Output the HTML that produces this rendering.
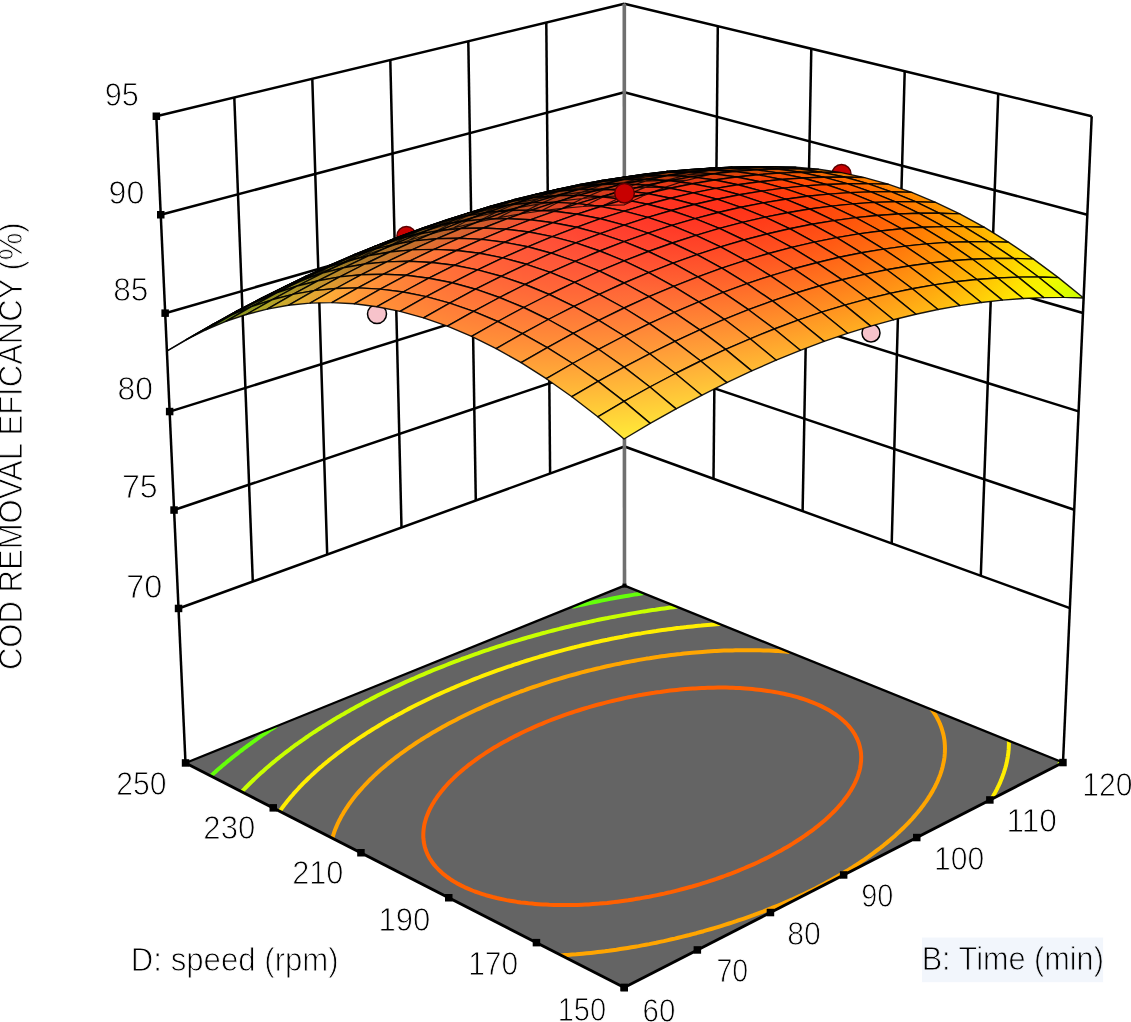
<!DOCTYPE html>
<html><head><meta charset="utf-8"><style>html,body{margin:0;padding:0;background:#fff;}svg{display:block;filter:blur(0.4px)}</style></head>
<body><svg width="1131" height="1022" viewBox="0 0 1131 1022">
<defs><linearGradient id="g0_0" gradientUnits="userSpaceOnUse" x1="625.1" y1="204.7" x2="623.6" y2="195.8"><stop offset="0" stop-color="#21d003"/><stop offset="1" stop-color="#6cd005"/></linearGradient><linearGradient id="g0_1" gradientUnits="userSpaceOnUse" x1="604.5" y1="205.2" x2="603.1" y2="196.8"><stop offset="0" stop-color="#37ca05"/><stop offset="1" stop-color="#7cca07"/></linearGradient><linearGradient id="g0_2" gradientUnits="userSpaceOnUse" x1="583.7" y1="206.4" x2="582.2" y2="198.5"><stop offset="0" stop-color="#48c408"/><stop offset="1" stop-color="#89c40a"/></linearGradient><linearGradient id="g0_3" gradientUnits="userSpaceOnUse" x1="562.6" y1="208.3" x2="561.1" y2="200.9"><stop offset="0" stop-color="#56be0b"/><stop offset="1" stop-color="#91be0d"/></linearGradient><linearGradient id="g0_4" gradientUnits="userSpaceOnUse" x1="541.2" y1="210.8" x2="539.8" y2="203.9"><stop offset="0" stop-color="#60b80d"/><stop offset="1" stop-color="#97b80f"/></linearGradient><linearGradient id="g0_5" gradientUnits="userSpaceOnUse" x1="519.6" y1="214.0" x2="518.2" y2="207.6"><stop offset="0" stop-color="#67b20f"/><stop offset="1" stop-color="#9ab211"/></linearGradient><linearGradient id="g0_6" gradientUnits="userSpaceOnUse" x1="497.8" y1="217.9" x2="496.3" y2="212.1"><stop offset="0" stop-color="#6cac11"/><stop offset="1" stop-color="#9aac13"/></linearGradient><linearGradient id="g0_7" gradientUnits="userSpaceOnUse" x1="475.6" y1="222.6" x2="474.2" y2="217.2"><stop offset="0" stop-color="#6da513"/><stop offset="1" stop-color="#98a515"/></linearGradient><linearGradient id="g0_8" gradientUnits="userSpaceOnUse" x1="453.2" y1="227.9" x2="451.8" y2="223.0"><stop offset="0" stop-color="#6d9f15"/><stop offset="1" stop-color="#949f17"/></linearGradient><linearGradient id="g0_9" gradientUnits="userSpaceOnUse" x1="430.5" y1="234.0" x2="429.2" y2="229.6"><stop offset="0" stop-color="#6b9816"/><stop offset="1" stop-color="#8e9818"/></linearGradient><linearGradient id="g0_10" gradientUnits="userSpaceOnUse" x1="407.6" y1="240.9" x2="406.4" y2="236.9"><stop offset="0" stop-color="#669217"/><stop offset="1" stop-color="#879219"/></linearGradient><linearGradient id="g0_11" gradientUnits="userSpaceOnUse" x1="384.5" y1="248.6" x2="383.2" y2="244.9"><stop offset="0" stop-color="#608c18"/><stop offset="1" stop-color="#808c1a"/></linearGradient><linearGradient id="g0_12" gradientUnits="userSpaceOnUse" x1="361.0" y1="257.0" x2="359.8" y2="253.6"><stop offset="0" stop-color="#598519"/><stop offset="1" stop-color="#78851b"/></linearGradient><linearGradient id="g0_13" gradientUnits="userSpaceOnUse" x1="337.3" y1="266.2" x2="336.1" y2="263.2"><stop offset="0" stop-color="#517f1a"/><stop offset="1" stop-color="#6f7f1c"/></linearGradient><linearGradient id="g0_14" gradientUnits="userSpaceOnUse" x1="313.4" y1="276.3" x2="312.2" y2="273.4"><stop offset="0" stop-color="#47781a"/><stop offset="1" stop-color="#66781a"/></linearGradient><linearGradient id="g0_15" gradientUnits="userSpaceOnUse" x1="289.2" y1="287.1" x2="288.1" y2="284.6"><stop offset="0" stop-color="#3d7219"/><stop offset="1" stop-color="#5c7219"/></linearGradient><linearGradient id="g0_16" gradientUnits="userSpaceOnUse" x1="264.6" y1="298.6" x2="263.7" y2="296.7"><stop offset="0" stop-color="#336c18"/><stop offset="1" stop-color="#516c18"/></linearGradient><linearGradient id="g0_17" gradientUnits="userSpaceOnUse" x1="239.8" y1="311.0" x2="239.1" y2="309.6"><stop offset="0" stop-color="#296616"/><stop offset="1" stop-color="#466616"/></linearGradient><linearGradient id="g0_18" gradientUnits="userSpaceOnUse" x1="214.7" y1="324.1" x2="214.2" y2="323.3"><stop offset="0" stop-color="#206616"/><stop offset="1" stop-color="#3f6616"/></linearGradient><linearGradient id="g0_19" gradientUnits="userSpaceOnUse" x1="189.3" y1="338.1" x2="189.2" y2="338.0"><stop offset="0" stop-color="#156616"/><stop offset="1" stop-color="#346616"/></linearGradient><linearGradient id="g1_0" gradientUnits="userSpaceOnUse" x1="645.5" y1="195.2" x2="644.4" y2="187.5"><stop offset="0" stop-color="#4fc101"/><stop offset="1" stop-color="#91c103"/></linearGradient><linearGradient id="g1_1" gradientUnits="userSpaceOnUse" x1="624.9" y1="195.6" x2="623.8" y2="188.4"><stop offset="0" stop-color="#61bb04"/><stop offset="1" stop-color="#9dbb06"/></linearGradient><linearGradient id="g1_2" gradientUnits="userSpaceOnUse" x1="604.1" y1="196.7" x2="602.9" y2="190.0"><stop offset="0" stop-color="#6fb507"/><stop offset="1" stop-color="#a6b508"/></linearGradient><linearGradient id="g1_3" gradientUnits="userSpaceOnUse" x1="582.9" y1="198.4" x2="581.8" y2="192.2"><stop offset="0" stop-color="#79ae09"/><stop offset="1" stop-color="#acae0b"/></linearGradient><linearGradient id="g1_4" gradientUnits="userSpaceOnUse" x1="561.4" y1="200.8" x2="560.5" y2="195.1"><stop offset="0" stop-color="#82a90b"/><stop offset="1" stop-color="#aaa40d"/></linearGradient><linearGradient id="g1_5" gradientUnits="userSpaceOnUse" x1="539.8" y1="204.2" x2="538.9" y2="198.5"><stop offset="0" stop-color="#84a30d"/><stop offset="1" stop-color="#a4990f"/></linearGradient><linearGradient id="g1_6" gradientUnits="userSpaceOnUse" x1="517.0" y1="203.0" x2="517.9" y2="207.7"><stop offset="0" stop-color="#9c8f11"/><stop offset="1" stop-color="#879b0f"/></linearGradient><linearGradient id="g1_7" gradientUnits="userSpaceOnUse" x1="494.8" y1="208.0" x2="495.8" y2="212.4"><stop offset="0" stop-color="#958612"/><stop offset="1" stop-color="#859511"/></linearGradient><linearGradient id="g1_8" gradientUnits="userSpaceOnUse" x1="472.4" y1="213.7" x2="473.4" y2="217.6"><stop offset="0" stop-color="#8e7f14"/><stop offset="1" stop-color="#818e12"/></linearGradient><linearGradient id="g1_9" gradientUnits="userSpaceOnUse" x1="449.7" y1="220.2" x2="450.7" y2="223.6"><stop offset="0" stop-color="#877815"/><stop offset="1" stop-color="#7c8713"/></linearGradient><linearGradient id="g1_10" gradientUnits="userSpaceOnUse" x1="426.8" y1="227.4" x2="427.7" y2="230.4"><stop offset="0" stop-color="#807316"/><stop offset="1" stop-color="#768014"/></linearGradient><linearGradient id="g1_11" gradientUnits="userSpaceOnUse" x1="403.6" y1="235.2" x2="404.5" y2="238.0"><stop offset="0" stop-color="#796e17"/><stop offset="1" stop-color="#6d7a15"/></linearGradient><linearGradient id="g1_12" gradientUnits="userSpaceOnUse" x1="379.9" y1="243.1" x2="381.2" y2="247.1"><stop offset="0" stop-color="#796618"/><stop offset="1" stop-color="#5f7615"/></linearGradient><linearGradient id="g1_13" gradientUnits="userSpaceOnUse" x1="357.0" y1="255.0" x2="356.5" y2="253.8"><stop offset="0" stop-color="#5e6b16"/><stop offset="1" stop-color="#6b6717"/></linearGradient><linearGradient id="g1_14" gradientUnits="userSpaceOnUse" x1="332.9" y1="264.9" x2="332.6" y2="264.1"><stop offset="0" stop-color="#566516"/><stop offset="1" stop-color="#666516"/></linearGradient><linearGradient id="g1_15" gradientUnits="userSpaceOnUse" x1="308.6" y1="275.7" x2="308.4" y2="275.2"><stop offset="0" stop-color="#4c6616"/><stop offset="1" stop-color="#656616"/></linearGradient><linearGradient id="g1_16" gradientUnits="userSpaceOnUse" x1="283.9" y1="287.1" x2="284.0" y2="287.2"><stop offset="0" stop-color="#4a6616"/><stop offset="1" stop-color="#646616"/></linearGradient><linearGradient id="g1_17" gradientUnits="userSpaceOnUse" x1="258.9" y1="299.3" x2="259.4" y2="300.1"><stop offset="0" stop-color="#406616"/><stop offset="1" stop-color="#5c6616"/></linearGradient><linearGradient id="g1_18" gradientUnits="userSpaceOnUse" x1="233.6" y1="312.4" x2="234.5" y2="313.9"><stop offset="0" stop-color="#386616"/><stop offset="1" stop-color="#556616"/></linearGradient><linearGradient id="g1_19" gradientUnits="userSpaceOnUse" x1="208.0" y1="326.3" x2="209.5" y2="328.6"><stop offset="0" stop-color="#326d18"/><stop offset="1" stop-color="#516d18"/></linearGradient><linearGradient id="g2_0" gradientUnits="userSpaceOnUse" x1="666.2" y1="187.0" x2="665.4" y2="180.5"><stop offset="0" stop-color="#72b100"/><stop offset="1" stop-color="#aab102"/></linearGradient><linearGradient id="g2_1" gradientUnits="userSpaceOnUse" x1="645.5" y1="187.3" x2="644.9" y2="181.3"><stop offset="0" stop-color="#82ac03"/><stop offset="1" stop-color="#ada705"/></linearGradient><linearGradient id="g2_2" gradientUnits="userSpaceOnUse" x1="623.5" y1="182.9" x2="625.1" y2="188.1"><stop offset="0" stop-color="#a79807"/><stop offset="1" stop-color="#8ea605"/></linearGradient><linearGradient id="g2_3" gradientUnits="userSpaceOnUse" x1="602.9" y1="184.8" x2="603.5" y2="189.9"><stop offset="0" stop-color="#a08a09"/><stop offset="1" stop-color="#939f07"/></linearGradient><linearGradient id="g2_4" gradientUnits="userSpaceOnUse" x1="581.4" y1="187.7" x2="582.2" y2="192.1"><stop offset="0" stop-color="#977d0b"/><stop offset="1" stop-color="#959609"/></linearGradient><linearGradient id="g2_5" gradientUnits="userSpaceOnUse" x1="559.7" y1="191.2" x2="560.5" y2="195.1"><stop offset="0" stop-color="#8f730d"/><stop offset="1" stop-color="#8f8b0b"/></linearGradient><linearGradient id="g2_6" gradientUnits="userSpaceOnUse" x1="537.8" y1="195.4" x2="538.5" y2="198.8"><stop offset="0" stop-color="#886b0e"/><stop offset="1" stop-color="#88800d"/></linearGradient><linearGradient id="g2_7" gradientUnits="userSpaceOnUse" x1="515.6" y1="200.3" x2="516.3" y2="203.2"><stop offset="0" stop-color="#816310"/><stop offset="1" stop-color="#81770e"/></linearGradient><linearGradient id="g2_8" gradientUnits="userSpaceOnUse" x1="493.2" y1="206.0" x2="493.8" y2="208.3"><stop offset="0" stop-color="#7a5d11"/><stop offset="1" stop-color="#7a6f0f"/></linearGradient><linearGradient id="g2_9" gradientUnits="userSpaceOnUse" x1="470.5" y1="212.4" x2="471.1" y2="214.3"><stop offset="0" stop-color="#735812"/><stop offset="1" stop-color="#736810"/></linearGradient><linearGradient id="g2_10" gradientUnits="userSpaceOnUse" x1="447.5" y1="219.5" x2="448.0" y2="221.0"><stop offset="0" stop-color="#6c5312"/><stop offset="1" stop-color="#6c6311"/></linearGradient><linearGradient id="g2_11" gradientUnits="userSpaceOnUse" x1="424.3" y1="227.3" x2="424.7" y2="228.4"><stop offset="0" stop-color="#664f13"/><stop offset="1" stop-color="#665f11"/></linearGradient><linearGradient id="g2_12" gradientUnits="userSpaceOnUse" x1="400.9" y1="236.1" x2="401.1" y2="236.6"><stop offset="0" stop-color="#665115"/><stop offset="1" stop-color="#666113"/></linearGradient><linearGradient id="g2_13" gradientUnits="userSpaceOnUse" x1="377.2" y1="245.6" x2="377.1" y2="245.5"><stop offset="0" stop-color="#665117"/><stop offset="1" stop-color="#666115"/></linearGradient><linearGradient id="g2_14" gradientUnits="userSpaceOnUse" x1="353.3" y1="256.0" x2="352.9" y2="255.2"><stop offset="0" stop-color="#665516"/><stop offset="1" stop-color="#666516"/></linearGradient><linearGradient id="g2_15" gradientUnits="userSpaceOnUse" x1="329.0" y1="267.0" x2="328.5" y2="265.9"><stop offset="0" stop-color="#675c17"/><stop offset="1" stop-color="#666717"/></linearGradient><linearGradient id="g2_16" gradientUnits="userSpaceOnUse" x1="304.5" y1="279.0" x2="303.7" y2="277.3"><stop offset="0" stop-color="#6e6718"/><stop offset="1" stop-color="#676f18"/></linearGradient><linearGradient id="g2_17" gradientUnits="userSpaceOnUse" x1="278.8" y1="289.8" x2="279.6" y2="291.5"><stop offset="0" stop-color="#66751a"/><stop offset="1" stop-color="#74741a"/></linearGradient><linearGradient id="g2_18" gradientUnits="userSpaceOnUse" x1="252.9" y1="302.0" x2="255.3" y2="306.0"><stop offset="0" stop-color="#5d7d1b"/><stop offset="1" stop-color="#7d7c1b"/></linearGradient><linearGradient id="g2_19" gradientUnits="userSpaceOnUse" x1="227.0" y1="315.8" x2="230.3" y2="320.8"><stop offset="0" stop-color="#57841d"/><stop offset="1" stop-color="#7a841d"/></linearGradient><linearGradient id="g3_0" gradientUnits="userSpaceOnUse" x1="686.7" y1="174.9" x2="687.3" y2="180.2"><stop offset="0" stop-color="#a59401"/><stop offset="1" stop-color="#8da400"/></linearGradient><linearGradient id="g3_1" gradientUnits="userSpaceOnUse" x1="666.1" y1="175.6" x2="666.6" y2="180.4"><stop offset="0" stop-color="#9c8203"/><stop offset="1" stop-color="#959b02"/></linearGradient><linearGradient id="g3_2" gradientUnits="userSpaceOnUse" x1="645.2" y1="176.9" x2="645.7" y2="181.2"><stop offset="0" stop-color="#937306"/><stop offset="1" stop-color="#938e04"/></linearGradient><linearGradient id="g3_3" gradientUnits="userSpaceOnUse" x1="624.1" y1="179.0" x2="624.6" y2="182.7"><stop offset="0" stop-color="#8b6707"/><stop offset="1" stop-color="#8b7f06"/></linearGradient><linearGradient id="g3_4" gradientUnits="userSpaceOnUse" x1="602.6" y1="181.7" x2="603.1" y2="184.8"><stop offset="0" stop-color="#845d09"/><stop offset="1" stop-color="#847208"/></linearGradient><linearGradient id="g3_5" gradientUnits="userSpaceOnUse" x1="581.0" y1="185.1" x2="581.4" y2="187.7"><stop offset="0" stop-color="#7d540b"/><stop offset="1" stop-color="#7d6709"/></linearGradient><linearGradient id="g3_6" gradientUnits="userSpaceOnUse" x1="559.0" y1="189.2" x2="559.4" y2="191.2"><stop offset="0" stop-color="#754d0c"/><stop offset="1" stop-color="#755e0b"/></linearGradient><linearGradient id="g3_7" gradientUnits="userSpaceOnUse" x1="536.8" y1="194.0" x2="537.2" y2="195.5"><stop offset="0" stop-color="#6e470d"/><stop offset="1" stop-color="#6e560c"/></linearGradient><linearGradient id="g3_8" gradientUnits="userSpaceOnUse" x1="514.4" y1="199.6" x2="514.6" y2="200.6"><stop offset="0" stop-color="#67420e"/><stop offset="1" stop-color="#674f0d"/></linearGradient><linearGradient id="g3_9" gradientUnits="userSpaceOnUse" x1="491.6" y1="205.9" x2="491.8" y2="206.4"><stop offset="0" stop-color="#664210"/><stop offset="1" stop-color="#664f0e"/></linearGradient><linearGradient id="g3_10" gradientUnits="userSpaceOnUse" x1="468.7" y1="213.1" x2="468.7" y2="212.9"><stop offset="0" stop-color="#664011"/><stop offset="1" stop-color="#664e10"/></linearGradient><linearGradient id="g3_11" gradientUnits="userSpaceOnUse" x1="445.5" y1="220.9" x2="445.2" y2="220.2"><stop offset="0" stop-color="#664313"/><stop offset="1" stop-color="#665111"/></linearGradient><linearGradient id="g3_12" gradientUnits="userSpaceOnUse" x1="422.0" y1="229.7" x2="421.5" y2="228.2"><stop offset="0" stop-color="#684615"/><stop offset="1" stop-color="#685513"/></linearGradient><linearGradient id="g3_13" gradientUnits="userSpaceOnUse" x1="398.4" y1="239.3" x2="397.4" y2="237.0"><stop offset="0" stop-color="#6f4d19"/><stop offset="1" stop-color="#6f5e16"/></linearGradient><linearGradient id="g3_14" gradientUnits="userSpaceOnUse" x1="374.4" y1="249.6" x2="373.1" y2="246.6"><stop offset="0" stop-color="#76561a"/><stop offset="1" stop-color="#76671a"/></linearGradient><linearGradient id="g3_15" gradientUnits="userSpaceOnUse" x1="350.3" y1="260.8" x2="348.4" y2="257.0"><stop offset="0" stop-color="#7e5f1c"/><stop offset="1" stop-color="#7e721c"/></linearGradient><linearGradient id="g3_16" gradientUnits="userSpaceOnUse" x1="326.0" y1="273.0" x2="323.3" y2="268.1"><stop offset="0" stop-color="#856a1d"/><stop offset="1" stop-color="#857e1d"/></linearGradient><linearGradient id="g3_17" gradientUnits="userSpaceOnUse" x1="301.5" y1="286.0" x2="297.9" y2="280.1"><stop offset="0" stop-color="#8d751f"/><stop offset="1" stop-color="#8d8c1f"/></linearGradient><linearGradient id="g3_18" gradientUnits="userSpaceOnUse" x1="275.6" y1="298.5" x2="273.3" y2="294.3"><stop offset="0" stop-color="#928620"/><stop offset="1" stop-color="#909320"/></linearGradient><linearGradient id="g3_19" gradientUnits="userSpaceOnUse" x1="247.9" y1="308.6" x2="250.0" y2="312.6"><stop offset="0" stop-color="#8b9922"/><stop offset="1" stop-color="#999722"/></linearGradient><linearGradient id="g4_0" gradientUnits="userSpaceOnUse" x1="708.3" y1="170.7" x2="708.6" y2="174.7"><stop offset="0" stop-color="#907100"/><stop offset="1" stop-color="#908c00"/></linearGradient><linearGradient id="g4_1" gradientUnits="userSpaceOnUse" x1="687.6" y1="171.3" x2="688.0" y2="174.8"><stop offset="0" stop-color="#886202"/><stop offset="1" stop-color="#887b01"/></linearGradient><linearGradient id="g4_2" gradientUnits="userSpaceOnUse" x1="666.8" y1="172.5" x2="667.1" y2="175.5"><stop offset="0" stop-color="#815604"/><stop offset="1" stop-color="#816c03"/></linearGradient><linearGradient id="g4_3" gradientUnits="userSpaceOnUse" x1="645.6" y1="174.5" x2="645.9" y2="176.8"><stop offset="0" stop-color="#794c06"/><stop offset="1" stop-color="#795f05"/></linearGradient><linearGradient id="g4_4" gradientUnits="userSpaceOnUse" x1="624.2" y1="177.1" x2="624.4" y2="178.9"><stop offset="0" stop-color="#714307"/><stop offset="1" stop-color="#715406"/></linearGradient><linearGradient id="g4_5" gradientUnits="userSpaceOnUse" x1="602.5" y1="180.4" x2="602.7" y2="181.7"><stop offset="0" stop-color="#6a3c09"/><stop offset="1" stop-color="#6a4a07"/></linearGradient><linearGradient id="g4_6" gradientUnits="userSpaceOnUse" x1="580.5" y1="184.4" x2="580.7" y2="185.1"><stop offset="0" stop-color="#66380a"/><stop offset="1" stop-color="#664509"/></linearGradient><linearGradient id="g4_7" gradientUnits="userSpaceOnUse" x1="558.3" y1="189.2" x2="558.4" y2="189.4"><stop offset="0" stop-color="#66370c"/><stop offset="1" stop-color="#66440a"/></linearGradient><linearGradient id="g4_8" gradientUnits="userSpaceOnUse" x1="535.9" y1="194.7" x2="535.7" y2="194.3"><stop offset="0" stop-color="#66360e"/><stop offset="1" stop-color="#66430c"/></linearGradient><linearGradient id="g4_9" gradientUnits="userSpaceOnUse" x1="513.1" y1="201.0" x2="512.8" y2="200.0"><stop offset="0" stop-color="#66370f"/><stop offset="1" stop-color="#66420e"/></linearGradient><linearGradient id="g4_10" gradientUnits="userSpaceOnUse" x1="490.2" y1="208.2" x2="489.6" y2="206.3"><stop offset="0" stop-color="#6e3b13"/><stop offset="1" stop-color="#6e4911"/></linearGradient><linearGradient id="g4_11" gradientUnits="userSpaceOnUse" x1="467.0" y1="216.1" x2="466.0" y2="213.4"><stop offset="0" stop-color="#764116"/><stop offset="1" stop-color="#765014"/></linearGradient><linearGradient id="g4_12" gradientUnits="userSpaceOnUse" x1="443.7" y1="224.9" x2="442.1" y2="221.2"><stop offset="0" stop-color="#7d481a"/><stop offset="1" stop-color="#7d5817"/></linearGradient><linearGradient id="g4_13" gradientUnits="userSpaceOnUse" x1="420.1" y1="234.6" x2="417.9" y2="229.7"><stop offset="0" stop-color="#854f1e"/><stop offset="1" stop-color="#85621a"/></linearGradient><linearGradient id="g4_14" gradientUnits="userSpaceOnUse" x1="396.1" y1="244.7" x2="393.5" y2="239.5"><stop offset="0" stop-color="#8d591f"/><stop offset="1" stop-color="#8d6b1f"/></linearGradient><linearGradient id="g4_15" gradientUnits="userSpaceOnUse" x1="372.0" y1="256.1" x2="368.6" y2="249.7"><stop offset="0" stop-color="#956221"/><stop offset="1" stop-color="#957621"/></linearGradient><linearGradient id="g4_16" gradientUnits="userSpaceOnUse" x1="347.8" y1="268.3" x2="343.2" y2="260.7"><stop offset="0" stop-color="#9c6c22"/><stop offset="1" stop-color="#9c8222"/></linearGradient><linearGradient id="g4_17" gradientUnits="userSpaceOnUse" x1="323.5" y1="281.4" x2="317.5" y2="272.5"><stop offset="0" stop-color="#a47824"/><stop offset="1" stop-color="#a49124"/></linearGradient><linearGradient id="g4_18" gradientUnits="userSpaceOnUse" x1="299.0" y1="295.3" x2="291.4" y2="285.2"><stop offset="0" stop-color="#ac8626"/><stop offset="1" stop-color="#aca026"/></linearGradient><linearGradient id="g4_19" gradientUnits="userSpaceOnUse" x1="274.4" y1="310.1" x2="264.9" y2="298.8"><stop offset="0" stop-color="#b39527"/><stop offset="1" stop-color="#b3b227"/></linearGradient><linearGradient id="g5_0" gradientUnits="userSpaceOnUse" x1="730.1" y1="168.0" x2="730.2" y2="170.7"><stop offset="0" stop-color="#7e5600"/><stop offset="1" stop-color="#7e6c00"/></linearGradient><linearGradient id="g5_1" gradientUnits="userSpaceOnUse" x1="709.5" y1="168.5" x2="709.6" y2="170.6"><stop offset="0" stop-color="#764902"/><stop offset="1" stop-color="#765d00"/></linearGradient><linearGradient id="g5_2" gradientUnits="userSpaceOnUse" x1="688.6" y1="169.6" x2="688.7" y2="171.2"><stop offset="0" stop-color="#6e3f03"/><stop offset="1" stop-color="#6e4f02"/></linearGradient><linearGradient id="g5_3" gradientUnits="userSpaceOnUse" x1="667.4" y1="171.5" x2="667.5" y2="172.5"><stop offset="0" stop-color="#663605"/><stop offset="1" stop-color="#664403"/></linearGradient><linearGradient id="g5_4" gradientUnits="userSpaceOnUse" x1="646.0" y1="174.0" x2="646.0" y2="174.4"><stop offset="0" stop-color="#663206"/><stop offset="1" stop-color="#663f05"/></linearGradient><linearGradient id="g5_5" gradientUnits="userSpaceOnUse" x1="624.3" y1="177.3" x2="624.3" y2="177.1"><stop offset="0" stop-color="#663108"/><stop offset="1" stop-color="#663d07"/></linearGradient><linearGradient id="g5_6" gradientUnits="userSpaceOnUse" x1="602.3" y1="181.2" x2="602.2" y2="180.5"><stop offset="0" stop-color="#662f0a"/><stop offset="1" stop-color="#663a08"/></linearGradient><linearGradient id="g5_7" gradientUnits="userSpaceOnUse" x1="580.1" y1="185.9" x2="579.9" y2="184.6"><stop offset="0" stop-color="#6b300c"/><stop offset="1" stop-color="#6b3b0b"/></linearGradient><linearGradient id="g5_8" gradientUnits="userSpaceOnUse" x1="557.7" y1="191.4" x2="557.2" y2="189.5"><stop offset="0" stop-color="#73330f"/><stop offset="1" stop-color="#733e0d"/></linearGradient><linearGradient id="g5_9" gradientUnits="userSpaceOnUse" x1="535.0" y1="197.7" x2="534.2" y2="194.9"><stop offset="0" stop-color="#7b3712"/><stop offset="1" stop-color="#7b4310"/></linearGradient><linearGradient id="g5_10" gradientUnits="userSpaceOnUse" x1="512.1" y1="204.9" x2="510.8" y2="201.0"><stop offset="0" stop-color="#833b16"/><stop offset="1" stop-color="#834a14"/></linearGradient><linearGradient id="g5_11" gradientUnits="userSpaceOnUse" x1="489.1" y1="213.0" x2="487.1" y2="207.8"><stop offset="0" stop-color="#8c411a"/><stop offset="1" stop-color="#8c5117"/></linearGradient><linearGradient id="g5_12" gradientUnits="userSpaceOnUse" x1="465.8" y1="222.0" x2="462.9" y2="215.4"><stop offset="0" stop-color="#94471e"/><stop offset="1" stop-color="#94591b"/></linearGradient><linearGradient id="g5_13" gradientUnits="userSpaceOnUse" x1="442.5" y1="231.8" x2="438.3" y2="223.7"><stop offset="0" stop-color="#9c4f23"/><stop offset="1" stop-color="#9c631f"/></linearGradient><linearGradient id="g5_14" gradientUnits="userSpaceOnUse" x1="418.3" y1="241.6" x2="414.0" y2="233.6"><stop offset="0" stop-color="#a45924"/><stop offset="1" stop-color="#a46c24"/></linearGradient><linearGradient id="g5_15" gradientUnits="userSpaceOnUse" x1="394.4" y1="253.0" x2="388.9" y2="243.7"><stop offset="0" stop-color="#ac6226"/><stop offset="1" stop-color="#ac7726"/></linearGradient><linearGradient id="g5_16" gradientUnits="userSpaceOnUse" x1="370.5" y1="265.3" x2="363.2" y2="254.5"><stop offset="0" stop-color="#b46d28"/><stop offset="1" stop-color="#b48428"/></linearGradient><linearGradient id="g5_17" gradientUnits="userSpaceOnUse" x1="346.4" y1="278.4" x2="337.0" y2="266.3"><stop offset="0" stop-color="#bc7929"/><stop offset="1" stop-color="#bc9329"/></linearGradient><linearGradient id="g5_18" gradientUnits="userSpaceOnUse" x1="322.3" y1="292.4" x2="310.4" y2="279.0"><stop offset="0" stop-color="#c4872b"/><stop offset="1" stop-color="#c4a32b"/></linearGradient><linearGradient id="g5_19" gradientUnits="userSpaceOnUse" x1="298.0" y1="307.1" x2="283.3" y2="292.6"><stop offset="0" stop-color="#cc972d"/><stop offset="1" stop-color="#ccb62d"/></linearGradient><linearGradient id="g6_0" gradientUnits="userSpaceOnUse" x1="752.1" y1="166.7" x2="752.2" y2="168.1"><stop offset="0" stop-color="#6b4100"/><stop offset="1" stop-color="#6b5200"/></linearGradient><linearGradient id="g6_1" gradientUnits="userSpaceOnUse" x1="731.5" y1="167.1" x2="731.6" y2="167.9"><stop offset="0" stop-color="#663701"/><stop offset="1" stop-color="#664600"/></linearGradient><linearGradient id="g6_2" gradientUnits="userSpaceOnUse" x1="710.6" y1="168.2" x2="710.6" y2="168.4"><stop offset="0" stop-color="#663103"/><stop offset="1" stop-color="#663e01"/></linearGradient><linearGradient id="g6_3" gradientUnits="userSpaceOnUse" x1="689.5" y1="170.0" x2="689.4" y2="169.6"><stop offset="0" stop-color="#662e04"/><stop offset="1" stop-color="#663b03"/></linearGradient><linearGradient id="g6_4" gradientUnits="userSpaceOnUse" x1="668.1" y1="172.4" x2="668.0" y2="171.4"><stop offset="0" stop-color="#662a06"/><stop offset="1" stop-color="#663605"/></linearGradient><linearGradient id="g6_5" gradientUnits="userSpaceOnUse" x1="646.4" y1="175.6" x2="646.2" y2="174.0"><stop offset="0" stop-color="#6f2b08"/><stop offset="1" stop-color="#6f3707"/></linearGradient><linearGradient id="g6_6" gradientUnits="userSpaceOnUse" x1="624.4" y1="179.5" x2="624.1" y2="177.3"><stop offset="0" stop-color="#772d0b"/><stop offset="1" stop-color="#773809"/></linearGradient><linearGradient id="g6_7" gradientUnits="userSpaceOnUse" x1="602.2" y1="184.1" x2="601.7" y2="181.3"><stop offset="0" stop-color="#802f0e"/><stop offset="1" stop-color="#803a0c"/></linearGradient><linearGradient id="g6_8" gradientUnits="userSpaceOnUse" x1="579.8" y1="189.6" x2="578.9" y2="186.0"><stop offset="0" stop-color="#883212"/><stop offset="1" stop-color="#883d10"/></linearGradient><linearGradient id="g6_9" gradientUnits="userSpaceOnUse" x1="557.2" y1="196.1" x2="555.8" y2="191.2"><stop offset="0" stop-color="#913515"/><stop offset="1" stop-color="#914213"/></linearGradient><linearGradient id="g6_10" gradientUnits="userSpaceOnUse" x1="534.5" y1="203.4" x2="532.2" y2="197.1"><stop offset="0" stop-color="#99391a"/><stop offset="1" stop-color="#994816"/></linearGradient><linearGradient id="g6_11" gradientUnits="userSpaceOnUse" x1="511.7" y1="211.7" x2="508.2" y2="203.6"><stop offset="0" stop-color="#a23f1e"/><stop offset="1" stop-color="#a24f1a"/></linearGradient><linearGradient id="g6_12" gradientUnits="userSpaceOnUse" x1="488.8" y1="220.9" x2="483.6" y2="210.8"><stop offset="0" stop-color="#aa4523"/><stop offset="1" stop-color="#aa581e"/></linearGradient><linearGradient id="g6_13" gradientUnits="userSpaceOnUse" x1="465.9" y1="230.9" x2="458.5" y2="218.8"><stop offset="0" stop-color="#b34e28"/><stop offset="1" stop-color="#b36223"/></linearGradient><linearGradient id="g6_14" gradientUnits="userSpaceOnUse" x1="441.3" y1="240.4" x2="434.5" y2="229.1"><stop offset="0" stop-color="#bb5829"/><stop offset="1" stop-color="#bb6b29"/></linearGradient><linearGradient id="g6_15" gradientUnits="userSpaceOnUse" x1="417.6" y1="251.7" x2="409.0" y2="239.1"><stop offset="0" stop-color="#c4622b"/><stop offset="1" stop-color="#c4772b"/></linearGradient><linearGradient id="g6_16" gradientUnits="userSpaceOnUse" x1="394.1" y1="264.1" x2="382.7" y2="249.8"><stop offset="0" stop-color="#cc6c2d"/><stop offset="1" stop-color="#cc842d"/></linearGradient><linearGradient id="g6_17" gradientUnits="userSpaceOnUse" x1="370.7" y1="277.2" x2="355.9" y2="261.6"><stop offset="0" stop-color="#d4792f"/><stop offset="1" stop-color="#d4932f"/></linearGradient><linearGradient id="g6_18" gradientUnits="userSpaceOnUse" x1="347.1" y1="290.9" x2="328.5" y2="274.4"><stop offset="0" stop-color="#dd8830"/><stop offset="1" stop-color="#dda430"/></linearGradient><linearGradient id="g6_19" gradientUnits="userSpaceOnUse" x1="323.5" y1="305.3" x2="300.7" y2="288.5"><stop offset="0" stop-color="#e59832"/><stop offset="1" stop-color="#e5b732"/></linearGradient><linearGradient id="g7_0" gradientUnits="userSpaceOnUse" x1="774.4" y1="166.9" x2="774.4" y2="167.0"><stop offset="0" stop-color="#794500"/><stop offset="1" stop-color="#794e00"/></linearGradient><linearGradient id="g7_1" gradientUnits="userSpaceOnUse" x1="753.8" y1="167.3" x2="753.8" y2="166.7"><stop offset="0" stop-color="#793a00"/><stop offset="1" stop-color="#794a00"/></linearGradient><linearGradient id="g7_2" gradientUnits="userSpaceOnUse" x1="732.9" y1="168.3" x2="732.9" y2="167.1"><stop offset="0" stop-color="#7c3402"/><stop offset="1" stop-color="#7c4301"/></linearGradient><linearGradient id="g7_3" gradientUnits="userSpaceOnUse" x1="711.8" y1="170.0" x2="711.7" y2="168.1"><stop offset="0" stop-color="#833205"/><stop offset="1" stop-color="#834003"/></linearGradient><linearGradient id="g7_4" gradientUnits="userSpaceOnUse" x1="690.4" y1="172.4" x2="690.2" y2="169.9"><stop offset="0" stop-color="#8b3008"/><stop offset="1" stop-color="#8b3e06"/></linearGradient><linearGradient id="g7_5" gradientUnits="userSpaceOnUse" x1="668.7" y1="175.5" x2="668.4" y2="172.4"><stop offset="0" stop-color="#93300b"/><stop offset="1" stop-color="#933d09"/></linearGradient><linearGradient id="g7_6" gradientUnits="userSpaceOnUse" x1="646.8" y1="179.3" x2="646.3" y2="175.6"><stop offset="0" stop-color="#9a300e"/><stop offset="1" stop-color="#9a3c0c"/></linearGradient><linearGradient id="g7_7" gradientUnits="userSpaceOnUse" x1="624.7" y1="183.8" x2="623.8" y2="179.6"><stop offset="0" stop-color="#a23111"/><stop offset="1" stop-color="#a23d0f"/></linearGradient><linearGradient id="g7_8" gradientUnits="userSpaceOnUse" x1="602.3" y1="189.4" x2="601.0" y2="184.1"><stop offset="0" stop-color="#aa3315"/><stop offset="1" stop-color="#aa3f13"/></linearGradient><linearGradient id="g7_9" gradientUnits="userSpaceOnUse" x1="579.9" y1="196.2" x2="577.6" y2="188.9"><stop offset="0" stop-color="#b2351a"/><stop offset="1" stop-color="#b24317"/></linearGradient><linearGradient id="g7_10" gradientUnits="userSpaceOnUse" x1="557.5" y1="203.9" x2="553.7" y2="194.3"><stop offset="0" stop-color="#ba391f"/><stop offset="1" stop-color="#ba491b"/></linearGradient><linearGradient id="g7_11" gradientUnits="userSpaceOnUse" x1="535.2" y1="212.5" x2="529.1" y2="200.4"><stop offset="0" stop-color="#c13f24"/><stop offset="1" stop-color="#c1501f"/></linearGradient><linearGradient id="g7_12" gradientUnits="userSpaceOnUse" x1="513.1" y1="221.9" x2="503.7" y2="207.3"><stop offset="0" stop-color="#c94529"/><stop offset="1" stop-color="#c95923"/></linearGradient><linearGradient id="g7_13" gradientUnits="userSpaceOnUse" x1="491.2" y1="232.0" x2="477.4" y2="215.2"><stop offset="0" stop-color="#d14e2e"/><stop offset="1" stop-color="#d16328"/></linearGradient><linearGradient id="g7_14" gradientUnits="userSpaceOnUse" x1="465.6" y1="241.1" x2="454.4" y2="225.8"><stop offset="0" stop-color="#d95930"/><stop offset="1" stop-color="#d96c2f"/></linearGradient><linearGradient id="g7_15" gradientUnits="userSpaceOnUse" x1="442.2" y1="252.2" x2="428.5" y2="235.9"><stop offset="0" stop-color="#e06231"/><stop offset="1" stop-color="#e07731"/></linearGradient><linearGradient id="g7_16" gradientUnits="userSpaceOnUse" x1="419.6" y1="264.4" x2="401.3" y2="246.8"><stop offset="0" stop-color="#e86d33"/><stop offset="1" stop-color="#e88433"/></linearGradient><linearGradient id="g7_17" gradientUnits="userSpaceOnUse" x1="397.1" y1="277.0" x2="373.4" y2="259.0"><stop offset="0" stop-color="#ef7a35"/><stop offset="1" stop-color="#ef9335"/></linearGradient><linearGradient id="g7_18" gradientUnits="userSpaceOnUse" x1="374.4" y1="289.9" x2="345.0" y2="272.8"><stop offset="0" stop-color="#f78836"/><stop offset="1" stop-color="#f7a436"/></linearGradient><linearGradient id="g7_19" gradientUnits="userSpaceOnUse" x1="351.3" y1="303.1" x2="316.5" y2="288.0"><stop offset="0" stop-color="#fe9938"/><stop offset="1" stop-color="#feb838"/></linearGradient><linearGradient id="g8_0" gradientUnits="userSpaceOnUse" x1="796.9" y1="168.7" x2="797.0" y2="167.4"><stop offset="0" stop-color="#a25100"/><stop offset="1" stop-color="#a26500"/></linearGradient><linearGradient id="g8_1" gradientUnits="userSpaceOnUse" x1="776.3" y1="168.9" x2="776.4" y2="167.0"><stop offset="0" stop-color="#a84800"/><stop offset="1" stop-color="#a85c00"/></linearGradient><linearGradient id="g8_2" gradientUnits="userSpaceOnUse" x1="755.5" y1="169.9" x2="755.5" y2="167.3"><stop offset="0" stop-color="#ad4103"/><stop offset="1" stop-color="#ad5300"/></linearGradient><linearGradient id="g8_3" gradientUnits="userSpaceOnUse" x1="734.4" y1="171.5" x2="734.3" y2="168.2"><stop offset="0" stop-color="#b33b06"/><stop offset="1" stop-color="#b34c03"/></linearGradient><linearGradient id="g8_4" gradientUnits="userSpaceOnUse" x1="713.0" y1="173.9" x2="712.8" y2="169.9"><stop offset="0" stop-color="#b93709"/><stop offset="1" stop-color="#b94607"/></linearGradient><linearGradient id="g8_5" gradientUnits="userSpaceOnUse" x1="691.3" y1="176.9" x2="691.0" y2="172.3"><stop offset="0" stop-color="#bf340d"/><stop offset="1" stop-color="#bf420a"/></linearGradient><linearGradient id="g8_6" gradientUnits="userSpaceOnUse" x1="669.5" y1="180.7" x2="668.8" y2="175.5"><stop offset="0" stop-color="#c43311"/><stop offset="1" stop-color="#c4400e"/></linearGradient><linearGradient id="g8_7" gradientUnits="userSpaceOnUse" x1="647.4" y1="185.2" x2="646.3" y2="179.4"><stop offset="0" stop-color="#ca3315"/><stop offset="1" stop-color="#ca3e12"/></linearGradient><linearGradient id="g8_8" gradientUnits="userSpaceOnUse" x1="625.2" y1="191.0" x2="623.3" y2="183.6"><stop offset="0" stop-color="#d0341a"/><stop offset="1" stop-color="#d04016"/></linearGradient><linearGradient id="g8_9" gradientUnits="userSpaceOnUse" x1="603.2" y1="198.2" x2="599.5" y2="187.8"><stop offset="0" stop-color="#d6351f"/><stop offset="1" stop-color="#d6431a"/></linearGradient><linearGradient id="g8_10" gradientUnits="userSpaceOnUse" x1="581.6" y1="206.4" x2="574.7" y2="192.6"><stop offset="0" stop-color="#db3924"/><stop offset="1" stop-color="#db491f"/></linearGradient><linearGradient id="g8_11" gradientUnits="userSpaceOnUse" x1="560.6" y1="215.5" x2="548.7" y2="198.2"><stop offset="0" stop-color="#e13e29"/><stop offset="1" stop-color="#e14f23"/></linearGradient><linearGradient id="g8_12" gradientUnits="userSpaceOnUse" x1="540.4" y1="224.7" x2="521.3" y2="205.2"><stop offset="0" stop-color="#e7442f"/><stop offset="1" stop-color="#e75828"/></linearGradient><linearGradient id="g8_13" gradientUnits="userSpaceOnUse" x1="520.8" y1="233.6" x2="492.8" y2="214.3"><stop offset="0" stop-color="#ed4d34"/><stop offset="1" stop-color="#ed622e"/></linearGradient><linearGradient id="g8_14" gradientUnits="userSpaceOnUse" x1="492.8" y1="243.4" x2="472.1" y2="224.1"><stop offset="0" stop-color="#f25835"/><stop offset="1" stop-color="#f26b34"/></linearGradient><linearGradient id="g8_15" gradientUnits="userSpaceOnUse" x1="469.4" y1="254.0" x2="446.1" y2="234.8"><stop offset="0" stop-color="#f86136"/><stop offset="1" stop-color="#f87536"/></linearGradient><linearGradient id="g8_16" gradientUnits="userSpaceOnUse" x1="448.3" y1="264.9" x2="417.3" y2="246.9"><stop offset="0" stop-color="#fe6b38"/><stop offset="1" stop-color="#fe8138"/></linearGradient><linearGradient id="g8_17" gradientUnits="userSpaceOnUse" x1="426.6" y1="275.5" x2="388.5" y2="261.2"><stop offset="0" stop-color="#ff7538"/><stop offset="1" stop-color="#ff8d38"/></linearGradient><linearGradient id="g8_18" gradientUnits="userSpaceOnUse" x1="403.9" y1="286.1" x2="360.1" y2="277.2"><stop offset="0" stop-color="#ff8038"/><stop offset="1" stop-color="#ff9a38"/></linearGradient><linearGradient id="g8_19" gradientUnits="userSpaceOnUse" x1="379.8" y1="297.3" x2="332.4" y2="294.4"><stop offset="0" stop-color="#ff8d38"/><stop offset="1" stop-color="#ffa838"/></linearGradient><linearGradient id="g9_0" gradientUnits="userSpaceOnUse" x1="819.6" y1="171.9" x2="819.9" y2="169.3"><stop offset="0" stop-color="#ce6000"/><stop offset="1" stop-color="#ce7700"/></linearGradient><linearGradient id="g9_1" gradientUnits="userSpaceOnUse" x1="799.1" y1="172.1" x2="799.4" y2="168.9"><stop offset="0" stop-color="#d25300"/><stop offset="1" stop-color="#d26800"/></linearGradient><linearGradient id="g9_2" gradientUnits="userSpaceOnUse" x1="778.2" y1="173.0" x2="778.5" y2="169.1"><stop offset="0" stop-color="#d54803"/><stop offset="1" stop-color="#d55b00"/></linearGradient><linearGradient id="g9_3" gradientUnits="userSpaceOnUse" x1="757.1" y1="174.7" x2="757.3" y2="169.9"><stop offset="0" stop-color="#d94007"/><stop offset="1" stop-color="#d95103"/></linearGradient><linearGradient id="g9_4" gradientUnits="userSpaceOnUse" x1="735.7" y1="177.0" x2="735.8" y2="171.5"><stop offset="0" stop-color="#dd3a0b"/><stop offset="1" stop-color="#dd4907"/></linearGradient><linearGradient id="g9_5" gradientUnits="userSpaceOnUse" x1="714.2" y1="180.0" x2="713.9" y2="173.8"><stop offset="0" stop-color="#e0350f"/><stop offset="1" stop-color="#e0430b"/></linearGradient><linearGradient id="g9_6" gradientUnits="userSpaceOnUse" x1="692.3" y1="183.8" x2="691.7" y2="176.9"><stop offset="0" stop-color="#e43313"/><stop offset="1" stop-color="#e43e10"/></linearGradient><linearGradient id="g9_7" gradientUnits="userSpaceOnUse" x1="670.3" y1="188.2" x2="669.1" y2="180.8"><stop offset="0" stop-color="#e73218"/><stop offset="1" stop-color="#e73c14"/></linearGradient><linearGradient id="g9_8" gradientUnits="userSpaceOnUse" x1="648.5" y1="194.4" x2="645.7" y2="184.5"><stop offset="0" stop-color="#eb321d"/><stop offset="1" stop-color="#eb3c18"/></linearGradient><linearGradient id="g9_9" gradientUnits="userSpaceOnUse" x1="627.6" y1="202.5" x2="620.8" y2="187.7"><stop offset="0" stop-color="#ee3322"/><stop offset="1" stop-color="#ee3f1c"/></linearGradient><linearGradient id="g9_10" gradientUnits="userSpaceOnUse" x1="608.4" y1="211.5" x2="593.6" y2="191.8"><stop offset="0" stop-color="#f23627"/><stop offset="1" stop-color="#f24421"/></linearGradient><linearGradient id="g9_11" gradientUnits="userSpaceOnUse" x1="591.3" y1="219.2" x2="563.7" y2="198.6"><stop offset="0" stop-color="#f63b2c"/><stop offset="1" stop-color="#f64b26"/></linearGradient><linearGradient id="g9_12" gradientUnits="userSpaceOnUse" x1="574.1" y1="223.6" x2="533.3" y2="210.4"><stop offset="0" stop-color="#f9412f"/><stop offset="1" stop-color="#f9522d"/></linearGradient><linearGradient id="g9_13" gradientUnits="userSpaceOnUse" x1="553.2" y1="226.2" x2="506.0" y2="225.7"><stop offset="0" stop-color="#fd4a32"/><stop offset="1" stop-color="#fd5c35"/></linearGradient><linearGradient id="g9_14" gradientUnits="userSpaceOnUse" x1="525.9" y1="242.0" x2="484.5" y2="229.5"><stop offset="0" stop-color="#ff5337"/><stop offset="1" stop-color="#ff6437"/></linearGradient><linearGradient id="g9_15" gradientUnits="userSpaceOnUse" x1="501.1" y1="252.8" x2="459.9" y2="239.9"><stop offset="0" stop-color="#ff5b38"/><stop offset="1" stop-color="#ff6c38"/></linearGradient><linearGradient id="g9_16" gradientUnits="userSpaceOnUse" x1="479.1" y1="259.4" x2="431.9" y2="256.4"><stop offset="0" stop-color="#ff6338"/><stop offset="1" stop-color="#ff7538"/></linearGradient><linearGradient id="g9_17" gradientUnits="userSpaceOnUse" x1="454.6" y1="267.1" x2="405.8" y2="273.6"><stop offset="0" stop-color="#ff6c38"/><stop offset="1" stop-color="#ff8038"/></linearGradient><linearGradient id="g9_18" gradientUnits="userSpaceOnUse" x1="428.4" y1="276.7" x2="380.7" y2="290.6"><stop offset="0" stop-color="#ff7738"/><stop offset="1" stop-color="#ff8d38"/></linearGradient><linearGradient id="g9_19" gradientUnits="userSpaceOnUse" x1="401.6" y1="288.3" x2="355.8" y2="307.4"><stop offset="0" stop-color="#ff8438"/><stop offset="1" stop-color="#ff9b38"/></linearGradient><linearGradient id="g10_0" gradientUnits="userSpaceOnUse" x1="842.5" y1="176.7" x2="843.2" y2="172.9"><stop offset="0" stop-color="#f16d00"/><stop offset="1" stop-color="#f18400"/></linearGradient><linearGradient id="g10_1" gradientUnits="userSpaceOnUse" x1="821.9" y1="176.9" x2="822.7" y2="172.4"><stop offset="0" stop-color="#f25c00"/><stop offset="1" stop-color="#f27100"/></linearGradient><linearGradient id="g10_2" gradientUnits="userSpaceOnUse" x1="801.1" y1="177.7" x2="801.9" y2="172.5"><stop offset="0" stop-color="#f44e03"/><stop offset="1" stop-color="#f46000"/></linearGradient><linearGradient id="g10_3" gradientUnits="userSpaceOnUse" x1="780.0" y1="179.3" x2="780.7" y2="173.3"><stop offset="0" stop-color="#f54407"/><stop offset="1" stop-color="#f55303"/></linearGradient><linearGradient id="g10_4" gradientUnits="userSpaceOnUse" x1="758.6" y1="181.6" x2="759.3" y2="174.8"><stop offset="0" stop-color="#f63c0b"/><stop offset="1" stop-color="#f64907"/></linearGradient><linearGradient id="g10_5" gradientUnits="userSpaceOnUse" x1="737.0" y1="184.7" x2="737.4" y2="177.0"><stop offset="0" stop-color="#f73610"/><stop offset="1" stop-color="#f7410c"/></linearGradient><linearGradient id="g10_6" gradientUnits="userSpaceOnUse" x1="715.3" y1="188.4" x2="715.1" y2="180.0"><stop offset="0" stop-color="#f93314"/><stop offset="1" stop-color="#f93b10"/></linearGradient><linearGradient id="g10_7" gradientUnits="userSpaceOnUse" x1="693.5" y1="192.9" x2="692.3" y2="183.8"><stop offset="0" stop-color="#fa3119"/><stop offset="1" stop-color="#fa3815"/></linearGradient><linearGradient id="g10_8" gradientUnits="userSpaceOnUse" x1="672.6" y1="200.0" x2="668.0" y2="186.5"><stop offset="0" stop-color="#fb301e"/><stop offset="1" stop-color="#fb3719"/></linearGradient><linearGradient id="g10_9" gradientUnits="userSpaceOnUse" x1="656.6" y1="209.9" x2="638.2" y2="187.9"><stop offset="0" stop-color="#fc3124"/><stop offset="1" stop-color="#fc3a1d"/></linearGradient><linearGradient id="g10_10" gradientUnits="userSpaceOnUse" x1="645.5" y1="211.5" x2="602.9" y2="199.2"><stop offset="0" stop-color="#fd3425"/><stop offset="1" stop-color="#fd3e25"/></linearGradient><linearGradient id="g10_11" gradientUnits="userSpaceOnUse" x1="623.1" y1="206.8" x2="578.3" y2="218.4"><stop offset="0" stop-color="#ff3826"/><stop offset="1" stop-color="#ff432e"/></linearGradient><linearGradient id="g10_12" gradientUnits="userSpaceOnUse" x1="594.9" y1="209.6" x2="558.9" y2="231.8"><stop offset="0" stop-color="#ff3e2a"/><stop offset="1" stop-color="#ff4a34"/></linearGradient><linearGradient id="g10_13" gradientUnits="userSpaceOnUse" x1="567.6" y1="216.9" x2="537.9" y2="242.4"><stop offset="0" stop-color="#ff462f"/><stop offset="1" stop-color="#ff5338"/></linearGradient><linearGradient id="g10_14" gradientUnits="userSpaceOnUse" x1="546.9" y1="227.9" x2="509.7" y2="250.9"><stop offset="0" stop-color="#ff4e35"/><stop offset="1" stop-color="#ff5b39"/></linearGradient><linearGradient id="g10_15" gradientUnits="userSpaceOnUse" x1="524.6" y1="240.3" x2="482.6" y2="259.9"><stop offset="0" stop-color="#ff5638"/><stop offset="1" stop-color="#ff6338"/></linearGradient><linearGradient id="g10_16" gradientUnits="userSpaceOnUse" x1="496.8" y1="249.2" x2="460.3" y2="274.1"><stop offset="0" stop-color="#ff5d38"/><stop offset="1" stop-color="#ff6c38"/></linearGradient><linearGradient id="g10_17" gradientUnits="userSpaceOnUse" x1="469.5" y1="260.3" x2="436.9" y2="287.8"><stop offset="0" stop-color="#ff6738"/><stop offset="1" stop-color="#ff7738"/></linearGradient><linearGradient id="g10_18" gradientUnits="userSpaceOnUse" x1="442.6" y1="273.0" x2="412.6" y2="301.8"><stop offset="0" stop-color="#ff7138"/><stop offset="1" stop-color="#ff8438"/></linearGradient><linearGradient id="g10_19" gradientUnits="userSpaceOnUse" x1="415.8" y1="286.7" x2="387.4" y2="316.6"><stop offset="0" stop-color="#ff7e38"/><stop offset="1" stop-color="#ff9238"/></linearGradient><linearGradient id="g11_0" gradientUnits="userSpaceOnUse" x1="865.4" y1="183.2" x2="866.9" y2="178.0"><stop offset="0" stop-color="#ff7300"/><stop offset="1" stop-color="#ff8900"/></linearGradient><linearGradient id="g11_1" gradientUnits="userSpaceOnUse" x1="844.8" y1="183.3" x2="846.5" y2="177.5"><stop offset="0" stop-color="#ff6100"/><stop offset="1" stop-color="#ff7400"/></linearGradient><linearGradient id="g11_2" gradientUnits="userSpaceOnUse" x1="824.0" y1="184.0" x2="825.7" y2="177.7"><stop offset="0" stop-color="#ff5202"/><stop offset="1" stop-color="#ff6100"/></linearGradient><linearGradient id="g11_3" gradientUnits="userSpaceOnUse" x1="802.8" y1="185.4" x2="804.7" y2="178.5"><stop offset="0" stop-color="#ff4707"/><stop offset="1" stop-color="#ff5203"/></linearGradient><linearGradient id="g11_4" gradientUnits="userSpaceOnUse" x1="781.4" y1="187.6" x2="783.3" y2="180.0"><stop offset="0" stop-color="#ff3e0b"/><stop offset="1" stop-color="#ff4707"/></linearGradient><linearGradient id="g11_5" gradientUnits="userSpaceOnUse" x1="759.7" y1="190.7" x2="761.6" y2="182.1"><stop offset="0" stop-color="#ff3710"/><stop offset="1" stop-color="#ff3e0b"/></linearGradient><linearGradient id="g11_6" gradientUnits="userSpaceOnUse" x1="737.9" y1="194.5" x2="739.5" y2="185.0"><stop offset="0" stop-color="#ff3314"/><stop offset="1" stop-color="#ff3810"/></linearGradient><linearGradient id="g11_7" gradientUnits="userSpaceOnUse" x1="716.2" y1="199.2" x2="716.5" y2="188.4"><stop offset="0" stop-color="#ff3119"/><stop offset="1" stop-color="#ff3415"/></linearGradient><linearGradient id="g11_8" gradientUnits="userSpaceOnUse" x1="706.6" y1="210.5" x2="681.0" y2="186.9"><stop offset="0" stop-color="#ff301e"/><stop offset="1" stop-color="#ff3319"/></linearGradient><linearGradient id="g11_9" gradientUnits="userSpaceOnUse" x1="682.4" y1="192.7" x2="659.4" y2="216.0"><stop offset="0" stop-color="#ff311b"/><stop offset="1" stop-color="#ff3425"/></linearGradient><linearGradient id="g11_10" gradientUnits="userSpaceOnUse" x1="654.5" y1="200.0" x2="640.8" y2="221.6"><stop offset="0" stop-color="#ff3321"/><stop offset="1" stop-color="#ff3829"/></linearGradient><linearGradient id="g11_11" gradientUnits="userSpaceOnUse" x1="629.8" y1="207.6" x2="618.5" y2="228.5"><stop offset="0" stop-color="#ff3726"/><stop offset="1" stop-color="#ff3e2d"/></linearGradient><linearGradient id="g11_12" gradientUnits="userSpaceOnUse" x1="605.6" y1="215.7" x2="595.0" y2="236.6"><stop offset="0" stop-color="#ff3c2b"/><stop offset="1" stop-color="#ff4532"/></linearGradient><linearGradient id="g11_13" gradientUnits="userSpaceOnUse" x1="581.4" y1="224.4" x2="571.0" y2="245.8"><stop offset="0" stop-color="#ff4330"/><stop offset="1" stop-color="#ff4e36"/></linearGradient><linearGradient id="g11_14" gradientUnits="userSpaceOnUse" x1="557.5" y1="233.6" x2="546.1" y2="256.1"><stop offset="0" stop-color="#ff4c35"/><stop offset="1" stop-color="#ff5639"/></linearGradient><linearGradient id="g11_15" gradientUnits="userSpaceOnUse" x1="533.8" y1="243.4" x2="520.3" y2="267.7"><stop offset="0" stop-color="#ff5438"/><stop offset="1" stop-color="#ff5d38"/></linearGradient><linearGradient id="g11_16" gradientUnits="userSpaceOnUse" x1="508.6" y1="254.8" x2="495.4" y2="279.4"><stop offset="0" stop-color="#ff5b38"/><stop offset="1" stop-color="#ff6738"/></linearGradient><linearGradient id="g11_17" gradientUnits="userSpaceOnUse" x1="483.2" y1="266.9" x2="470.0" y2="292.2"><stop offset="0" stop-color="#ff6438"/><stop offset="1" stop-color="#ff7138"/></linearGradient><linearGradient id="g11_18" gradientUnits="userSpaceOnUse" x1="457.7" y1="279.9" x2="444.2" y2="305.9"><stop offset="0" stop-color="#ff6f38"/><stop offset="1" stop-color="#ff7e38"/></linearGradient><linearGradient id="g11_19" gradientUnits="userSpaceOnUse" x1="431.9" y1="293.8" x2="418.0" y2="320.6"><stop offset="0" stop-color="#ff7b38"/><stop offset="1" stop-color="#ff8c38"/></linearGradient><linearGradient id="g12_0" gradientUnits="userSpaceOnUse" x1="887.9" y1="192.3" x2="891.6" y2="183.7"><stop offset="0" stop-color="#ff7400"/><stop offset="1" stop-color="#ff8f00"/></linearGradient><linearGradient id="g12_1" gradientUnits="userSpaceOnUse" x1="867.1" y1="192.7" x2="871.5" y2="182.8"><stop offset="0" stop-color="#ff6100"/><stop offset="1" stop-color="#ff7900"/></linearGradient><linearGradient id="g12_2" gradientUnits="userSpaceOnUse" x1="845.8" y1="193.8" x2="851.2" y2="182.5"><stop offset="0" stop-color="#ff5202"/><stop offset="1" stop-color="#ff6600"/></linearGradient><linearGradient id="g12_3" gradientUnits="userSpaceOnUse" x1="823.6" y1="196.2" x2="831.2" y2="182.3"><stop offset="0" stop-color="#ff4608"/><stop offset="1" stop-color="#ff5600"/></linearGradient><linearGradient id="g12_4" gradientUnits="userSpaceOnUse" x1="800.8" y1="199.3" x2="811.3" y2="182.9"><stop offset="0" stop-color="#ff3d0d"/><stop offset="1" stop-color="#ff4b04"/></linearGradient><linearGradient id="g12_5" gradientUnits="userSpaceOnUse" x1="776.1" y1="203.5" x2="792.7" y2="183.9"><stop offset="0" stop-color="#ff3612"/><stop offset="1" stop-color="#ff4108"/></linearGradient><linearGradient id="g12_6" gradientUnits="userSpaceOnUse" x1="744.6" y1="205.6" x2="780.3" y2="188.4"><stop offset="0" stop-color="#ff3217"/><stop offset="1" stop-color="#ff3b0c"/></linearGradient><linearGradient id="g12_7" gradientUnits="userSpaceOnUse" x1="729.0" y1="188.5" x2="751.3" y2="213.6"><stop offset="0" stop-color="#ff3213"/><stop offset="1" stop-color="#ff3519"/></linearGradient><linearGradient id="g12_8" gradientUnits="userSpaceOnUse" x1="716.9" y1="199.3" x2="718.3" y2="212.5"><stop offset="0" stop-color="#ff3119"/><stop offset="1" stop-color="#ff331d"/></linearGradient><linearGradient id="g12_9" gradientUnits="userSpaceOnUse" x1="695.2" y1="204.6" x2="694.2" y2="218.5"><stop offset="0" stop-color="#ff311d"/><stop offset="1" stop-color="#ff3522"/></linearGradient><linearGradient id="g12_10" gradientUnits="userSpaceOnUse" x1="672.6" y1="210.8" x2="670.3" y2="225.2"><stop offset="0" stop-color="#ff3322"/><stop offset="1" stop-color="#ff3826"/></linearGradient><linearGradient id="g12_11" gradientUnits="userSpaceOnUse" x1="649.5" y1="217.7" x2="646.4" y2="232.8"><stop offset="0" stop-color="#ff3727"/><stop offset="1" stop-color="#ff3e2b"/></linearGradient><linearGradient id="g12_12" gradientUnits="userSpaceOnUse" x1="626.0" y1="225.5" x2="622.3" y2="241.2"><stop offset="0" stop-color="#ff3c2c"/><stop offset="1" stop-color="#ff4430"/></linearGradient><linearGradient id="g12_13" gradientUnits="userSpaceOnUse" x1="602.1" y1="234.1" x2="597.9" y2="250.5"><stop offset="0" stop-color="#ff4330"/><stop offset="1" stop-color="#ff4d35"/></linearGradient><linearGradient id="g12_14" gradientUnits="userSpaceOnUse" x1="577.7" y1="243.4" x2="573.4" y2="260.8"><stop offset="0" stop-color="#ff4c35"/><stop offset="1" stop-color="#ff5538"/></linearGradient><linearGradient id="g12_15" gradientUnits="userSpaceOnUse" x1="552.8" y1="253.5" x2="548.8" y2="272.1"><stop offset="0" stop-color="#ff5438"/><stop offset="1" stop-color="#ff5d38"/></linearGradient><linearGradient id="g12_16" gradientUnits="userSpaceOnUse" x1="528.1" y1="264.7" x2="523.3" y2="284.1"><stop offset="0" stop-color="#ff5b38"/><stop offset="1" stop-color="#ff6538"/></linearGradient><linearGradient id="g12_17" gradientUnits="userSpaceOnUse" x1="503.0" y1="276.8" x2="497.6" y2="297.0"><stop offset="0" stop-color="#ff6438"/><stop offset="1" stop-color="#ff7038"/></linearGradient><linearGradient id="g12_18" gradientUnits="userSpaceOnUse" x1="477.6" y1="289.8" x2="471.6" y2="310.8"><stop offset="0" stop-color="#ff6f38"/><stop offset="1" stop-color="#ff7c38"/></linearGradient><linearGradient id="g12_19" gradientUnits="userSpaceOnUse" x1="451.9" y1="303.7" x2="445.2" y2="325.5"><stop offset="0" stop-color="#ff7b38"/><stop offset="1" stop-color="#ff8938"/></linearGradient><linearGradient id="g13_0" gradientUnits="userSpaceOnUse" x1="909.4" y1="203.5" x2="917.7" y2="190.7"><stop offset="0" stop-color="#ff7900"/><stop offset="1" stop-color="#ff9800"/></linearGradient><linearGradient id="g13_1" gradientUnits="userSpaceOnUse" x1="888.0" y1="204.0" x2="898.2" y2="189.6"><stop offset="0" stop-color="#ff6600"/><stop offset="1" stop-color="#ff8300"/></linearGradient><linearGradient id="g13_2" gradientUnits="userSpaceOnUse" x1="865.5" y1="205.5" x2="879.3" y2="188.8"><stop offset="0" stop-color="#ff5602"/><stop offset="1" stop-color="#ff7000"/></linearGradient><linearGradient id="g13_3" gradientUnits="userSpaceOnUse" x1="838.9" y1="207.6" x2="863.8" y2="188.9"><stop offset="0" stop-color="#ff4a0a"/><stop offset="1" stop-color="#ff5f00"/></linearGradient><linearGradient id="g13_4" gradientUnits="userSpaceOnUse" x1="811.3" y1="207.1" x2="848.7" y2="193.0"><stop offset="0" stop-color="#ff400e"/><stop offset="1" stop-color="#ff5302"/></linearGradient><linearGradient id="g13_5" gradientUnits="userSpaceOnUse" x1="785.4" y1="199.3" x2="831.4" y2="206.0"><stop offset="0" stop-color="#ff3a0f"/><stop offset="1" stop-color="#ff490a"/></linearGradient><linearGradient id="g13_6" gradientUnits="userSpaceOnUse" x1="772.5" y1="193.0" x2="800.4" y2="218.9"><stop offset="0" stop-color="#ff360f"/><stop offset="1" stop-color="#ff4113"/></linearGradient><linearGradient id="g13_7" gradientUnits="userSpaceOnUse" x1="759.4" y1="199.1" x2="769.0" y2="220.9"><stop offset="0" stop-color="#ff3413"/><stop offset="1" stop-color="#ff3c18"/></linearGradient><linearGradient id="g13_8" gradientUnits="userSpaceOnUse" x1="740.2" y1="207.5" x2="743.1" y2="222.2"><stop offset="0" stop-color="#ff3318"/><stop offset="1" stop-color="#ff391c"/></linearGradient><linearGradient id="g13_9" gradientUnits="userSpaceOnUse" x1="718.2" y1="212.5" x2="719.3" y2="228.4"><stop offset="0" stop-color="#ff331d"/><stop offset="1" stop-color="#ff3b21"/></linearGradient><linearGradient id="g13_10" gradientUnits="userSpaceOnUse" x1="695.7" y1="218.6" x2="695.5" y2="235.3"><stop offset="0" stop-color="#ff3522"/><stop offset="1" stop-color="#ff3e26"/></linearGradient><linearGradient id="g13_11" gradientUnits="userSpaceOnUse" x1="672.7" y1="225.5" x2="671.5" y2="242.9"><stop offset="0" stop-color="#ff3826"/><stop offset="1" stop-color="#ff432b"/></linearGradient><linearGradient id="g13_12" gradientUnits="userSpaceOnUse" x1="649.2" y1="233.2" x2="647.3" y2="251.4"><stop offset="0" stop-color="#ff3e2b"/><stop offset="1" stop-color="#ff492f"/></linearGradient><linearGradient id="g13_13" gradientUnits="userSpaceOnUse" x1="625.5" y1="241.8" x2="622.8" y2="260.8"><stop offset="0" stop-color="#ff4430"/><stop offset="1" stop-color="#ff5134"/></linearGradient><linearGradient id="g13_14" gradientUnits="userSpaceOnUse" x1="601.1" y1="251.2" x2="598.3" y2="271.1"><stop offset="0" stop-color="#ff4d34"/><stop offset="1" stop-color="#ff5a38"/></linearGradient><linearGradient id="g13_15" gradientUnits="userSpaceOnUse" x1="575.6" y1="261.3" x2="574.2" y2="282.4"><stop offset="0" stop-color="#ff5538"/><stop offset="1" stop-color="#ff6138"/></linearGradient><linearGradient id="g13_16" gradientUnits="userSpaceOnUse" x1="550.9" y1="272.5" x2="548.7" y2="294.5"><stop offset="0" stop-color="#ff5d38"/><stop offset="1" stop-color="#ff6a38"/></linearGradient><linearGradient id="g13_17" gradientUnits="userSpaceOnUse" x1="525.9" y1="284.6" x2="522.9" y2="307.4"><stop offset="0" stop-color="#ff6538"/><stop offset="1" stop-color="#ff7438"/></linearGradient><linearGradient id="g13_18" gradientUnits="userSpaceOnUse" x1="500.5" y1="297.6" x2="496.8" y2="321.3"><stop offset="0" stop-color="#ff7038"/><stop offset="1" stop-color="#ff8038"/></linearGradient><linearGradient id="g13_19" gradientUnits="userSpaceOnUse" x1="474.9" y1="311.6" x2="470.4" y2="336.2"><stop offset="0" stop-color="#ff7c38"/><stop offset="1" stop-color="#ff8d38"/></linearGradient><linearGradient id="g14_0" gradientUnits="userSpaceOnUse" x1="929.5" y1="215.9" x2="945.6" y2="199.8"><stop offset="0" stop-color="#ff8300"/><stop offset="1" stop-color="#ffa600"/></linearGradient><linearGradient id="g14_1" gradientUnits="userSpaceOnUse" x1="907.1" y1="216.1" x2="927.3" y2="198.9"><stop offset="0" stop-color="#ff6f00"/><stop offset="1" stop-color="#ff9100"/></linearGradient><linearGradient id="g14_2" gradientUnits="userSpaceOnUse" x1="882.6" y1="216.5" x2="910.4" y2="199.3"><stop offset="0" stop-color="#ff5f02"/><stop offset="1" stop-color="#ff7d00"/></linearGradient><linearGradient id="g14_3" gradientUnits="userSpaceOnUse" x1="853.5" y1="211.1" x2="897.5" y2="206.8"><stop offset="0" stop-color="#ff5208"/><stop offset="1" stop-color="#ff6c00"/></linearGradient><linearGradient id="g14_4" gradientUnits="userSpaceOnUse" x1="831.9" y1="204.3" x2="876.6" y2="217.2"><stop offset="0" stop-color="#ff4909"/><stop offset="1" stop-color="#ff5f06"/></linearGradient><linearGradient id="g14_5" gradientUnits="userSpaceOnUse" x1="816.5" y1="200.4" x2="848.9" y2="226.2"><stop offset="0" stop-color="#ff420b"/><stop offset="1" stop-color="#ff540e"/></linearGradient><linearGradient id="g14_6" gradientUnits="userSpaceOnUse" x1="801.7" y1="203.1" x2="819.8" y2="230.1"><stop offset="0" stop-color="#ff3d0e"/><stop offset="1" stop-color="#ff4c13"/></linearGradient><linearGradient id="g14_7" gradientUnits="userSpaceOnUse" x1="784.1" y1="209.5" x2="793.0" y2="231.8"><stop offset="0" stop-color="#ff3b13"/><stop offset="1" stop-color="#ff4718"/></linearGradient><linearGradient id="g14_8" gradientUnits="userSpaceOnUse" x1="764.0" y1="217.1" x2="768.0" y2="233.9"><stop offset="0" stop-color="#ff3a18"/><stop offset="1" stop-color="#ff441c"/></linearGradient><linearGradient id="g14_9" gradientUnits="userSpaceOnUse" x1="741.9" y1="222.4" x2="744.4" y2="240.0"><stop offset="0" stop-color="#ff391d"/><stop offset="1" stop-color="#ff4420"/></linearGradient><linearGradient id="g14_10" gradientUnits="userSpaceOnUse" x1="719.3" y1="228.4" x2="720.6" y2="246.9"><stop offset="0" stop-color="#ff3b21"/><stop offset="1" stop-color="#ff4725"/></linearGradient><linearGradient id="g14_11" gradientUnits="userSpaceOnUse" x1="696.4" y1="235.3" x2="696.6" y2="254.7"><stop offset="0" stop-color="#ff3e26"/><stop offset="1" stop-color="#ff4b2a"/></linearGradient><linearGradient id="g14_12" gradientUnits="userSpaceOnUse" x1="673.0" y1="243.0" x2="672.4" y2="263.2"><stop offset="0" stop-color="#ff432a"/><stop offset="1" stop-color="#ff522f"/></linearGradient><linearGradient id="g14_13" gradientUnits="userSpaceOnUse" x1="649.2" y1="251.6" x2="647.9" y2="272.6"><stop offset="0" stop-color="#ff492f"/><stop offset="1" stop-color="#ff5933"/></linearGradient><linearGradient id="g14_14" gradientUnits="userSpaceOnUse" x1="625.0" y1="261.0" x2="623.2" y2="283.0"><stop offset="0" stop-color="#ff5134"/><stop offset="1" stop-color="#ff6238"/></linearGradient><linearGradient id="g14_15" gradientUnits="userSpaceOnUse" x1="599.2" y1="271.2" x2="599.5" y2="294.3"><stop offset="0" stop-color="#ff5a38"/><stop offset="1" stop-color="#ff6938"/></linearGradient><linearGradient id="g14_16" gradientUnits="userSpaceOnUse" x1="574.4" y1="282.4" x2="574.1" y2="306.4"><stop offset="0" stop-color="#ff6138"/><stop offset="1" stop-color="#ff7238"/></linearGradient><linearGradient id="g14_17" gradientUnits="userSpaceOnUse" x1="549.4" y1="294.5" x2="548.2" y2="319.5"><stop offset="0" stop-color="#ff6a38"/><stop offset="1" stop-color="#ff7c38"/></linearGradient><linearGradient id="g14_18" gradientUnits="userSpaceOnUse" x1="524.0" y1="307.6" x2="522.1" y2="333.5"><stop offset="0" stop-color="#ff7438"/><stop offset="1" stop-color="#ff8738"/></linearGradient><linearGradient id="g14_19" gradientUnits="userSpaceOnUse" x1="498.3" y1="321.6" x2="495.7" y2="348.5"><stop offset="0" stop-color="#ff8038"/><stop offset="1" stop-color="#ff9438"/></linearGradient><linearGradient id="g15_0" gradientUnits="userSpaceOnUse" x1="948.5" y1="228.2" x2="975.2" y2="212.3"><stop offset="0" stop-color="#ff9100"/><stop offset="1" stop-color="#ffb900"/></linearGradient><linearGradient id="g15_1" gradientUnits="userSpaceOnUse" x1="925.2" y1="227.2" x2="957.9" y2="212.7"><stop offset="0" stop-color="#ff7d00"/><stop offset="1" stop-color="#ffa300"/></linearGradient><linearGradient id="g15_2" gradientUnits="userSpaceOnUse" x1="900.4" y1="224.4" x2="941.5" y2="216.2"><stop offset="0" stop-color="#ff6c02"/><stop offset="1" stop-color="#ff8f00"/></linearGradient><linearGradient id="g15_3" gradientUnits="userSpaceOnUse" x1="877.5" y1="214.3" x2="922.4" y2="228.4"><stop offset="0" stop-color="#ff5f05"/><stop offset="1" stop-color="#ff7d02"/></linearGradient><linearGradient id="g15_4" gradientUnits="userSpaceOnUse" x1="860.5" y1="210.7" x2="897.0" y2="235.7"><stop offset="0" stop-color="#ff5507"/><stop offset="1" stop-color="#ff7008"/></linearGradient><linearGradient id="g15_5" gradientUnits="userSpaceOnUse" x1="844.6" y1="211.3" x2="869.8" y2="240.2"><stop offset="0" stop-color="#ff4e0a"/><stop offset="1" stop-color="#ff650e"/></linearGradient><linearGradient id="g15_6" gradientUnits="userSpaceOnUse" x1="827.4" y1="215.3" x2="843.2" y2="242.8"><stop offset="0" stop-color="#ff480e"/><stop offset="1" stop-color="#ff5c13"/></linearGradient><linearGradient id="g15_7" gradientUnits="userSpaceOnUse" x1="808.4" y1="221.2" x2="817.9" y2="245.1"><stop offset="0" stop-color="#ff4513"/><stop offset="1" stop-color="#ff5617"/></linearGradient><linearGradient id="g15_8" gradientUnits="userSpaceOnUse" x1="787.9" y1="228.2" x2="793.3" y2="247.9"><stop offset="0" stop-color="#ff4417"/><stop offset="1" stop-color="#ff521b"/></linearGradient><linearGradient id="g15_9" gradientUnits="userSpaceOnUse" x1="766.0" y1="234.1" x2="769.6" y2="253.3"><stop offset="0" stop-color="#ff441c"/><stop offset="1" stop-color="#ff5220"/></linearGradient><linearGradient id="g15_10" gradientUnits="userSpaceOnUse" x1="743.4" y1="240.1" x2="745.9" y2="260.4"><stop offset="0" stop-color="#ff4421"/><stop offset="1" stop-color="#ff5425"/></linearGradient><linearGradient id="g15_11" gradientUnits="userSpaceOnUse" x1="720.4" y1="246.9" x2="722.0" y2="268.2"><stop offset="0" stop-color="#ff4725"/><stop offset="1" stop-color="#ff5829"/></linearGradient><linearGradient id="g15_12" gradientUnits="userSpaceOnUse" x1="697.1" y1="254.7" x2="697.8" y2="276.8"><stop offset="0" stop-color="#ff4c2a"/><stop offset="1" stop-color="#ff5d2e"/></linearGradient><linearGradient id="g15_13" gradientUnits="userSpaceOnUse" x1="673.3" y1="263.2" x2="673.3" y2="286.3"><stop offset="0" stop-color="#ff522e"/><stop offset="1" stop-color="#ff6532"/></linearGradient><linearGradient id="g15_14" gradientUnits="userSpaceOnUse" x1="649.2" y1="272.7" x2="648.5" y2="296.7"><stop offset="0" stop-color="#ff5933"/><stop offset="1" stop-color="#ff6d37"/></linearGradient><linearGradient id="g15_15" gradientUnits="userSpaceOnUse" x1="623.5" y1="283.1" x2="624.7" y2="308.0"><stop offset="0" stop-color="#ff6237"/><stop offset="1" stop-color="#ff7438"/></linearGradient><linearGradient id="g15_16" gradientUnits="userSpaceOnUse" x1="598.4" y1="294.3" x2="599.6" y2="320.2"><stop offset="0" stop-color="#ff6938"/><stop offset="1" stop-color="#ff7d38"/></linearGradient><linearGradient id="g15_17" gradientUnits="userSpaceOnUse" x1="573.4" y1="306.4" x2="573.8" y2="333.4"><stop offset="0" stop-color="#ff7238"/><stop offset="1" stop-color="#ff8738"/></linearGradient><linearGradient id="g15_18" gradientUnits="userSpaceOnUse" x1="548.0" y1="319.5" x2="547.6" y2="347.6"><stop offset="0" stop-color="#ff7c38"/><stop offset="1" stop-color="#ff9238"/></linearGradient><linearGradient id="g15_19" gradientUnits="userSpaceOnUse" x1="522.3" y1="333.6" x2="521.2" y2="362.6"><stop offset="0" stop-color="#ff8738"/><stop offset="1" stop-color="#ff9f38"/></linearGradient><linearGradient id="g16_0" gradientUnits="userSpaceOnUse" x1="967.8" y1="239.7" x2="1004.9" y2="229.1"><stop offset="0" stop-color="#ffa300"/><stop offset="1" stop-color="#ffcf00"/></linearGradient><linearGradient id="g16_1" gradientUnits="userSpaceOnUse" x1="944.9" y1="236.9" x2="987.3" y2="231.3"><stop offset="0" stop-color="#ff8f00"/><stop offset="1" stop-color="#ffb900"/></linearGradient><linearGradient id="g16_2" gradientUnits="userSpaceOnUse" x1="922.3" y1="232.0" x2="968.7" y2="237.0"><stop offset="0" stop-color="#ff7d02"/><stop offset="1" stop-color="#ffa500"/></linearGradient><linearGradient id="g16_3" gradientUnits="userSpaceOnUse" x1="904.5" y1="223.9" x2="944.8" y2="247.2"><stop offset="0" stop-color="#ff7003"/><stop offset="1" stop-color="#ff9303"/></linearGradient><linearGradient id="g16_4" gradientUnits="userSpaceOnUse" x1="887.7" y1="223.0" x2="919.2" y2="251.9"><stop offset="0" stop-color="#ff6606"/><stop offset="1" stop-color="#ff8509"/></linearGradient><linearGradient id="g16_5" gradientUnits="userSpaceOnUse" x1="870.5" y1="224.9" x2="893.4" y2="255.1"><stop offset="0" stop-color="#ff5e0a"/><stop offset="1" stop-color="#ff790e"/></linearGradient><linearGradient id="g16_6" gradientUnits="userSpaceOnUse" x1="852.3" y1="229.0" x2="868.0" y2="257.6"><stop offset="0" stop-color="#ff580e"/><stop offset="1" stop-color="#ff7012"/></linearGradient><linearGradient id="g16_7" gradientUnits="userSpaceOnUse" x1="832.7" y1="234.6" x2="843.2" y2="260.3"><stop offset="0" stop-color="#ff5412"/><stop offset="1" stop-color="#ff6917"/></linearGradient><linearGradient id="g16_8" gradientUnits="userSpaceOnUse" x1="812.1" y1="241.1" x2="819.0" y2="263.6"><stop offset="0" stop-color="#ff5217"/><stop offset="1" stop-color="#ff651b"/></linearGradient><linearGradient id="g16_9" gradientUnits="userSpaceOnUse" x1="790.4" y1="247.7" x2="795.1" y2="268.5"><stop offset="0" stop-color="#ff521c"/><stop offset="1" stop-color="#ff631f"/></linearGradient><linearGradient id="g16_10" gradientUnits="userSpaceOnUse" x1="767.8" y1="253.7" x2="771.5" y2="275.6"><stop offset="0" stop-color="#ff5220"/><stop offset="1" stop-color="#ff6524"/></linearGradient><linearGradient id="g16_11" gradientUnits="userSpaceOnUse" x1="744.8" y1="260.5" x2="747.6" y2="283.5"><stop offset="0" stop-color="#ff5425"/><stop offset="1" stop-color="#ff6828"/></linearGradient><linearGradient id="g16_12" gradientUnits="userSpaceOnUse" x1="721.5" y1="268.2" x2="723.4" y2="292.3"><stop offset="0" stop-color="#ff5829"/><stop offset="1" stop-color="#ff6d2d"/></linearGradient><linearGradient id="g16_13" gradientUnits="userSpaceOnUse" x1="697.7" y1="276.8" x2="698.9" y2="301.9"><stop offset="0" stop-color="#ff5d2e"/><stop offset="1" stop-color="#ff7432"/></linearGradient><linearGradient id="g16_14" gradientUnits="userSpaceOnUse" x1="673.7" y1="286.3" x2="674.2" y2="312.3"><stop offset="0" stop-color="#ff6532"/><stop offset="1" stop-color="#ff7b36"/></linearGradient><linearGradient id="g16_15" gradientUnits="userSpaceOnUse" x1="648.2" y1="296.8" x2="650.1" y2="323.7"><stop offset="0" stop-color="#ff6d37"/><stop offset="1" stop-color="#ff8338"/></linearGradient><linearGradient id="g16_16" gradientUnits="userSpaceOnUse" x1="622.8" y1="308.2" x2="625.3" y2="335.9"><stop offset="0" stop-color="#ff7438"/><stop offset="1" stop-color="#ff8b38"/></linearGradient><linearGradient id="g16_17" gradientUnits="userSpaceOnUse" x1="597.8" y1="320.3" x2="599.5" y2="349.2"><stop offset="0" stop-color="#ff7d38"/><stop offset="1" stop-color="#ff9538"/></linearGradient><linearGradient id="g16_18" gradientUnits="userSpaceOnUse" x1="572.4" y1="333.5" x2="573.4" y2="363.5"><stop offset="0" stop-color="#ff8738"/><stop offset="1" stop-color="#ffa038"/></linearGradient><linearGradient id="g16_19" gradientUnits="userSpaceOnUse" x1="546.7" y1="347.6" x2="546.9" y2="378.7"><stop offset="0" stop-color="#ff9238"/><stop offset="1" stop-color="#ffad38"/></linearGradient><linearGradient id="g17_0" gradientUnits="userSpaceOnUse" x1="989.1" y1="251.4" x2="1033.0" y2="249.3"><stop offset="0" stop-color="#ffb900"/><stop offset="1" stop-color="#ffea00"/></linearGradient><linearGradient id="g17_1" gradientUnits="userSpaceOnUse" x1="967.6" y1="247.6" x2="1014.1" y2="252.5"><stop offset="0" stop-color="#ffa500"/><stop offset="1" stop-color="#ffd400"/></linearGradient><linearGradient id="g17_2" gradientUnits="userSpaceOnUse" x1="947.4" y1="242.7" x2="993.3" y2="258.2"><stop offset="0" stop-color="#ff9301"/><stop offset="1" stop-color="#ffbf00"/></linearGradient><linearGradient id="g17_3" gradientUnits="userSpaceOnUse" x1="931.1" y1="237.8" x2="968.0" y2="265.3"><stop offset="0" stop-color="#ff8603"/><stop offset="1" stop-color="#ffad04"/></linearGradient><linearGradient id="g17_4" gradientUnits="userSpaceOnUse" x1="913.7" y1="238.0" x2="943.1" y2="268.9"><stop offset="0" stop-color="#ff7a06"/><stop offset="1" stop-color="#ff9e09"/></linearGradient><linearGradient id="g17_5" gradientUnits="userSpaceOnUse" x1="895.8" y1="240.4" x2="918.1" y2="271.7"><stop offset="0" stop-color="#ff710a"/><stop offset="1" stop-color="#ff920e"/></linearGradient><linearGradient id="g17_6" gradientUnits="userSpaceOnUse" x1="876.9" y1="244.4" x2="893.4" y2="274.4"><stop offset="0" stop-color="#ff6b0e"/><stop offset="1" stop-color="#ff8812"/></linearGradient><linearGradient id="g17_7" gradientUnits="userSpaceOnUse" x1="857.1" y1="249.7" x2="869.1" y2="277.5"><stop offset="0" stop-color="#ff6612"/><stop offset="1" stop-color="#ff8116"/></linearGradient><linearGradient id="g17_8" gradientUnits="userSpaceOnUse" x1="836.4" y1="256.0" x2="844.9" y2="281.1"><stop offset="0" stop-color="#ff6417"/><stop offset="1" stop-color="#ff7b1b"/></linearGradient><linearGradient id="g17_9" gradientUnits="userSpaceOnUse" x1="814.9" y1="263.1" x2="821.0" y2="285.5"><stop offset="0" stop-color="#ff631b"/><stop offset="1" stop-color="#ff781f"/></linearGradient><linearGradient id="g17_10" gradientUnits="userSpaceOnUse" x1="792.4" y1="269.1" x2="797.4" y2="292.7"><stop offset="0" stop-color="#ff6320"/><stop offset="1" stop-color="#ff7923"/></linearGradient><linearGradient id="g17_11" gradientUnits="userSpaceOnUse" x1="769.4" y1="276.0" x2="773.5" y2="300.7"><stop offset="0" stop-color="#ff6524"/><stop offset="1" stop-color="#ff7c28"/></linearGradient><linearGradient id="g17_12" gradientUnits="userSpaceOnUse" x1="746.1" y1="283.7" x2="749.4" y2="309.6"><stop offset="0" stop-color="#ff6829"/><stop offset="1" stop-color="#ff802c"/></linearGradient><linearGradient id="g17_13" gradientUnits="userSpaceOnUse" x1="722.4" y1="292.4" x2="724.9" y2="319.3"><stop offset="0" stop-color="#ff6d2d"/><stop offset="1" stop-color="#ff8631"/></linearGradient><linearGradient id="g17_14" gradientUnits="userSpaceOnUse" x1="698.4" y1="301.9" x2="700.2" y2="329.9"><stop offset="0" stop-color="#ff7432"/><stop offset="1" stop-color="#ff8d35"/></linearGradient><linearGradient id="g17_15" gradientUnits="userSpaceOnUse" x1="673.2" y1="312.4" x2="675.9" y2="341.3"><stop offset="0" stop-color="#ff7b36"/><stop offset="1" stop-color="#ff9538"/></linearGradient><linearGradient id="g17_16" gradientUnits="userSpaceOnUse" x1="647.6" y1="323.9" x2="651.3" y2="353.6"><stop offset="0" stop-color="#ff8338"/><stop offset="1" stop-color="#ff9d38"/></linearGradient><linearGradient id="g17_17" gradientUnits="userSpaceOnUse" x1="622.6" y1="336.2" x2="625.5" y2="367.0"><stop offset="0" stop-color="#ff8b38"/><stop offset="1" stop-color="#ffa638"/></linearGradient><linearGradient id="g17_18" gradientUnits="userSpaceOnUse" x1="597.2" y1="349.4" x2="599.4" y2="381.4"><stop offset="0" stop-color="#ff9538"/><stop offset="1" stop-color="#ffb138"/></linearGradient><linearGradient id="g17_19" gradientUnits="userSpaceOnUse" x1="571.5" y1="363.6" x2="573.0" y2="396.7"><stop offset="0" stop-color="#ffa038"/><stop offset="1" stop-color="#ffbe38"/></linearGradient><linearGradient id="g18_0" gradientUnits="userSpaceOnUse" x1="1013.4" y1="258.6" x2="1058.5" y2="277.5"><stop offset="0" stop-color="#ffd600"/><stop offset="1" stop-color="#f4ff00"/></linearGradient><linearGradient id="g18_1" gradientUnits="userSpaceOnUse" x1="992.4" y1="261.0" x2="1039.2" y2="274.5"><stop offset="0" stop-color="#ffbf00"/><stop offset="1" stop-color="#fff300"/></linearGradient><linearGradient id="g18_2" gradientUnits="userSpaceOnUse" x1="973.6" y1="257.1" x2="1017.2" y2="279.3"><stop offset="0" stop-color="#ffad01"/><stop offset="1" stop-color="#ffde00"/></linearGradient><linearGradient id="g18_3" gradientUnits="userSpaceOnUse" x1="957.0" y1="254.4" x2="992.3" y2="284.3"><stop offset="0" stop-color="#ff9f03"/><stop offset="1" stop-color="#ffcb04"/></linearGradient><linearGradient id="g18_4" gradientUnits="userSpaceOnUse" x1="939.1" y1="255.1" x2="968.1" y2="287.4"><stop offset="0" stop-color="#ff9306"/><stop offset="1" stop-color="#ffbc09"/></linearGradient><linearGradient id="g18_5" gradientUnits="userSpaceOnUse" x1="920.8" y1="257.6" x2="943.7" y2="290.2"><stop offset="0" stop-color="#ff890a"/><stop offset="1" stop-color="#ffaf0e"/></linearGradient><linearGradient id="g18_6" gradientUnits="userSpaceOnUse" x1="901.6" y1="261.5" x2="919.4" y2="293.2"><stop offset="0" stop-color="#ff820e"/><stop offset="1" stop-color="#ffa412"/></linearGradient><linearGradient id="g18_7" gradientUnits="userSpaceOnUse" x1="881.7" y1="266.6" x2="895.3" y2="296.5"><stop offset="0" stop-color="#ff7d12"/><stop offset="1" stop-color="#ff9c16"/></linearGradient><linearGradient id="g18_8" gradientUnits="userSpaceOnUse" x1="860.9" y1="272.7" x2="871.3" y2="300.4"><stop offset="0" stop-color="#ff7a17"/><stop offset="1" stop-color="#ff961a"/></linearGradient><linearGradient id="g18_9" gradientUnits="userSpaceOnUse" x1="839.5" y1="279.7" x2="847.3" y2="305.1"><stop offset="0" stop-color="#ff791b"/><stop offset="1" stop-color="#ff921e"/></linearGradient><linearGradient id="g18_10" gradientUnits="userSpaceOnUse" x1="817.2" y1="286.5" x2="823.6" y2="311.7"><stop offset="0" stop-color="#ff781f"/><stop offset="1" stop-color="#ff9223"/></linearGradient><linearGradient id="g18_11" gradientUnits="userSpaceOnUse" x1="794.3" y1="293.4" x2="799.8" y2="319.8"><stop offset="0" stop-color="#ff7924"/><stop offset="1" stop-color="#ff9327"/></linearGradient><linearGradient id="g18_12" gradientUnits="userSpaceOnUse" x1="771.0" y1="301.2" x2="775.7" y2="328.8"><stop offset="0" stop-color="#ff7c28"/><stop offset="1" stop-color="#ff972b"/></linearGradient><linearGradient id="g18_13" gradientUnits="userSpaceOnUse" x1="747.3" y1="309.9" x2="751.3" y2="338.6"><stop offset="0" stop-color="#ff802d"/><stop offset="1" stop-color="#ff9c30"/></linearGradient><linearGradient id="g18_14" gradientUnits="userSpaceOnUse" x1="723.3" y1="319.5" x2="726.5" y2="349.3"><stop offset="0" stop-color="#ff8631"/><stop offset="1" stop-color="#ffa334"/></linearGradient><linearGradient id="g18_15" gradientUnits="userSpaceOnUse" x1="698.5" y1="330.0" x2="701.9" y2="360.9"><stop offset="0" stop-color="#ff8d35"/><stop offset="1" stop-color="#ffaa38"/></linearGradient><linearGradient id="g18_16" gradientUnits="userSpaceOnUse" x1="672.8" y1="341.7" x2="677.6" y2="373.2"><stop offset="0" stop-color="#ff9538"/><stop offset="1" stop-color="#ffb238"/></linearGradient><linearGradient id="g18_17" gradientUnits="userSpaceOnUse" x1="647.7" y1="354.0" x2="651.8" y2="386.7"><stop offset="0" stop-color="#ff9d38"/><stop offset="1" stop-color="#ffbb38"/></linearGradient><linearGradient id="g18_18" gradientUnits="userSpaceOnUse" x1="622.3" y1="367.3" x2="625.7" y2="401.2"><stop offset="0" stop-color="#ffa638"/><stop offset="1" stop-color="#ffc638"/></linearGradient><linearGradient id="g18_19" gradientUnits="userSpaceOnUse" x1="596.6" y1="381.6" x2="599.3" y2="416.7"><stop offset="0" stop-color="#ffb138"/><stop offset="1" stop-color="#ffd338"/></linearGradient><linearGradient id="g19_0" gradientUnits="userSpaceOnUse" x1="1073.6" y1="305.1" x2="1048.5" y2="269.9"><stop offset="0" stop-color="#cafe00"/><stop offset="1" stop-color="#fcf900"/></linearGradient><linearGradient id="g19_1" gradientUnits="userSpaceOnUse" x1="1036.5" y1="271.8" x2="1045.6" y2="302.8"><stop offset="0" stop-color="#f9ea00"/><stop offset="1" stop-color="#f3fd00"/></linearGradient><linearGradient id="g19_2" gradientUnits="userSpaceOnUse" x1="1000.9" y1="273.5" x2="1040.4" y2="302.0"><stop offset="0" stop-color="#ffcc01"/><stop offset="1" stop-color="#fdff01"/></linearGradient><linearGradient id="g19_3" gradientUnits="userSpaceOnUse" x1="982.5" y1="273.2" x2="1017.5" y2="304.7"><stop offset="0" stop-color="#ffbd03"/><stop offset="1" stop-color="#ffee04"/></linearGradient><linearGradient id="g19_4" gradientUnits="userSpaceOnUse" x1="964.3" y1="274.2" x2="993.7" y2="307.7"><stop offset="0" stop-color="#ffb007"/><stop offset="1" stop-color="#ffde09"/></linearGradient><linearGradient id="g19_5" gradientUnits="userSpaceOnUse" x1="945.6" y1="276.7" x2="969.7" y2="310.6"><stop offset="0" stop-color="#ffa50a"/><stop offset="1" stop-color="#ffd00d"/></linearGradient><linearGradient id="g19_6" gradientUnits="userSpaceOnUse" x1="926.3" y1="280.5" x2="945.8" y2="313.8"><stop offset="0" stop-color="#ff9d0e"/><stop offset="1" stop-color="#ffc412"/></linearGradient><linearGradient id="g19_7" gradientUnits="userSpaceOnUse" x1="906.3" y1="285.5" x2="921.8" y2="317.4"><stop offset="0" stop-color="#ff9712"/><stop offset="1" stop-color="#ffbb16"/></linearGradient><linearGradient id="g19_8" gradientUnits="userSpaceOnUse" x1="885.6" y1="291.5" x2="897.9" y2="321.6"><stop offset="0" stop-color="#ff9417"/><stop offset="1" stop-color="#ffb51a"/></linearGradient><linearGradient id="g19_9" gradientUnits="userSpaceOnUse" x1="864.3" y1="298.4" x2="874.0" y2="326.5"><stop offset="0" stop-color="#ff921b"/><stop offset="1" stop-color="#ffb01e"/></linearGradient><linearGradient id="g19_10" gradientUnits="userSpaceOnUse" x1="842.2" y1="305.8" x2="850.1" y2="332.6"><stop offset="0" stop-color="#ff911f"/><stop offset="1" stop-color="#ffae22"/></linearGradient><linearGradient id="g19_11" gradientUnits="userSpaceOnUse" x1="819.4" y1="312.8" x2="826.3" y2="340.8"><stop offset="0" stop-color="#ff9223"/><stop offset="1" stop-color="#ffaf26"/></linearGradient><linearGradient id="g19_12" gradientUnits="userSpaceOnUse" x1="796.1" y1="320.6" x2="802.3" y2="349.9"><stop offset="0" stop-color="#ff9328"/><stop offset="1" stop-color="#ffb22b"/></linearGradient><linearGradient id="g19_13" gradientUnits="userSpaceOnUse" x1="772.5" y1="329.4" x2="777.9" y2="359.9"><stop offset="0" stop-color="#ff972c"/><stop offset="1" stop-color="#ffb62f"/></linearGradient><linearGradient id="g19_14" gradientUnits="userSpaceOnUse" x1="748.5" y1="339.0" x2="753.3" y2="370.7"><stop offset="0" stop-color="#ff9c30"/><stop offset="1" stop-color="#ffbc33"/></linearGradient><linearGradient id="g19_15" gradientUnits="userSpaceOnUse" x1="724.0" y1="349.6" x2="728.4" y2="382.4"><stop offset="0" stop-color="#ffa334"/><stop offset="1" stop-color="#ffc337"/></linearGradient><linearGradient id="g19_16" gradientUnits="userSpaceOnUse" x1="698.3" y1="361.4" x2="704.1" y2="394.8"><stop offset="0" stop-color="#ffaa38"/><stop offset="1" stop-color="#ffcb38"/></linearGradient><linearGradient id="g19_17" gradientUnits="userSpaceOnUse" x1="673.2" y1="373.9" x2="678.4" y2="408.5"><stop offset="0" stop-color="#ffb238"/><stop offset="1" stop-color="#ffd438"/></linearGradient><linearGradient id="g19_18" gradientUnits="userSpaceOnUse" x1="647.8" y1="387.2" x2="652.4" y2="423.2"><stop offset="0" stop-color="#ffbb38"/><stop offset="1" stop-color="#ffde38"/></linearGradient><linearGradient id="g19_19" gradientUnits="userSpaceOnUse" x1="622.1" y1="401.6" x2="626.0" y2="438.8"><stop offset="0" stop-color="#ffc638"/><stop offset="1" stop-color="#ffeb38"/></linearGradient></defs>
<rect width="1131" height="1022" fill="#fff"/>
<line x1="252.8" y1="581.5" x2="234.3" y2="97.5" stroke="#000" stroke-width="2.5" />
<line x1="327.2" y1="554.5" x2="312.3" y2="78.8" stroke="#000" stroke-width="2.5" />
<line x1="401.5" y1="527.5" x2="390.3" y2="60.0" stroke="#000" stroke-width="2.5" />
<line x1="475.8" y1="500.5" x2="468.3" y2="41.2" stroke="#000" stroke-width="2.5" />
<line x1="550.1" y1="473.5" x2="546.3" y2="22.5" stroke="#000" stroke-width="2.5" />
<line x1="980.8" y1="575.8" x2="998.2" y2="93.8" stroke="#000" stroke-width="2.5" />
<line x1="891.7" y1="543.5" x2="904.7" y2="71.3" stroke="#000" stroke-width="2.5" />
<line x1="802.6" y1="511.2" x2="811.3" y2="48.7" stroke="#000" stroke-width="2.5" />
<line x1="713.5" y1="478.9" x2="717.8" y2="26.2" stroke="#000" stroke-width="2.5" />
<line x1="178.5" y1="608.5" x2="624.5" y2="446.5" stroke="#000" stroke-width="2.5" />
<line x1="624.5" y1="446.5" x2="1069.9" y2="608.1" stroke="#000" stroke-width="2.5" />
<line x1="174.1" y1="510.0" x2="624.4" y2="358.0" stroke="#000" stroke-width="2.5" />
<line x1="624.4" y1="358.0" x2="1074.2" y2="509.7" stroke="#000" stroke-width="2.5" />
<line x1="169.6" y1="411.6" x2="624.4" y2="269.4" stroke="#000" stroke-width="2.5" />
<line x1="624.4" y1="269.4" x2="1078.6" y2="411.4" stroke="#000" stroke-width="2.5" />
<line x1="165.2" y1="313.2" x2="624.4" y2="180.8" stroke="#000" stroke-width="2.5" />
<line x1="624.4" y1="180.8" x2="1083.0" y2="313.0" stroke="#000" stroke-width="2.5" />
<line x1="160.7" y1="214.7" x2="624.3" y2="92.3" stroke="#000" stroke-width="2.5" />
<line x1="624.3" y1="92.3" x2="1087.3" y2="214.7" stroke="#000" stroke-width="2.5" />
<line x1="156.3" y1="116.3" x2="624.3" y2="3.7" stroke="#000" stroke-width="2.5" />
<line x1="624.3" y1="3.7" x2="1091.7" y2="116.3" stroke="#000" stroke-width="2.5" />
<line x1="185.5" y1="763.0" x2="156.3" y2="116.3" stroke="#000" stroke-width="2.5" />
<line x1="1063.0" y1="762.5" x2="1091.7" y2="116.3" stroke="#000" stroke-width="2.5" />
<line x1="624.5" y1="585.6" x2="624.3" y2="3.7" stroke="#707070" stroke-width="3.6" />
<polygon points="185.5,763.0 624.2,987.5 1063.0,762.5 624.5,585.6" fill="#646464" stroke="none" stroke-linejoin="miter"/>
<clipPath id="fc"><polygon points="185.5,763.0 624.2,987.5 1063.0,762.5 624.5,585.6"/></clipPath>
<g fill="none" stroke-width="4" stroke-linecap="round" stroke-linejoin="round" clip-path="url(#fc)">
<path d="M275.4,726.5 L273.1,728.0 L271.2,729.2 L268.7,730.9 L266.7,732.3 L264.9,733.5 L262.4,735.2 L260.4,736.6 L258.6,737.9 L256.5,739.3 L254.1,741.1 L252.3,742.3 L250.6,743.6 L248.2,745.3 L246.2,746.9 L244.4,748.2 L242.7,749.5 L240.6,751.0 L238.4,752.8 L236.7,754.1 L234.9,755.5 L233.2,756.8 L231.3,758.4 L229.1,760.2 L227.3,761.6 L225.7,763.0 L224.0,764.4 L222.3,765.8 L220.7,767.2 L218.8,768.8 L216.8,770.5 L215.0,772.2 L213.4,773.6 L211.8,775.1 L211.0,775.8" stroke="#64ff0a"/>
<path d="M642.6,593.3 L639.8,593.7 L636.9,594.2 L634.2,594.6 L631.4,595.1 L628.1,595.7 L624.6,596.3 L621.7,596.8 L619.0,597.3 L616.2,597.8 L613.5,598.3 L610.1,598.9 L606.8,599.6 L604.1,600.1 L601.4,600.6 L598.6,601.2 L594.8,602.0 L592.2,602.5 L589.5,603.1 L586.4,603.7 L583.0,604.5 L580.4,605.0 L577.7,605.6 L573.9,606.5 L573.2,606.6" stroke="#64ff0a"/>
<path d="M1059.4,764.1 L1059.8,762.7 L1060.1,761.1 L1060.1,761.1" stroke="#c8ff00"/>
<path d="M676.3,606.8 L673.3,607.2 L670.3,607.6 L667.4,608.0 L664.4,608.4 L661.4,608.8 L658.4,609.2 L655.5,609.7 L652.5,610.1 L649.7,610.5 L646.8,611.0 L643.9,611.4 L641.0,611.9 L638.2,612.4 L635.4,612.9 L632.3,613.4 L628.8,614.0 L625.6,614.6 L622.8,615.1 L620.0,615.6 L617.3,616.1 L614.3,616.7 L610.5,617.4 L607.7,618.0 L605.0,618.5 L602.3,619.0 L598.6,619.8 L595.7,620.4 L593.0,621.0 L590.2,621.6 L586.4,622.5 L583.8,623.0 L581.2,623.6 L577.3,624.5 L574.7,625.1 L571.9,625.8 L568.3,626.7 L565.7,627.3 L561.9,628.2 L559.4,628.9 L556.6,629.6 L553.1,630.5 L550.6,631.1 L546.8,632.1 L544.4,632.8 L540.6,633.8 L538.2,634.5 L534.5,635.5 L532.0,636.2 L528.4,637.2 L525.8,638.0 L522.3,639.0 L518.7,640.1 L516.3,640.8 L512.7,641.9 L510.3,642.6 L506.8,643.7 L503.3,644.8 L500.9,645.6 L497.4,646.7 L493.9,647.8 L490.7,648.9 L488.1,649.8 L484.6,650.9 L481.1,652.1 L477.8,653.3 L475.4,654.1 L472.0,655.3 L468.6,656.6 L465.2,657.8 L461.8,659.0 L458.5,660.3 L456.3,661.1 L452.9,662.4 L449.6,663.7 L446.3,665.0 L443.0,666.3 L439.7,667.6 L436.4,668.9 L433.2,670.2 L429.9,671.6 L426.7,672.9 L423.5,674.3 L420.2,675.7 L417.0,677.0 L414.9,678.0 L411.7,679.4 L408.6,680.8 L405.4,682.2 L402.3,683.6 L399.2,685.1 L397.1,686.1 L394.0,687.5 L390.9,689.0 L387.8,690.5 L385.8,691.5 L382.7,693.0 L379.6,694.5 L377.5,695.6 L374.6,697.1 L371.6,698.6 L369.6,699.7 L366.6,701.2 L363.6,702.8 L361.6,703.9 L358.7,705.5 L356.3,706.8 L353.8,708.2 L350.8,709.8 L348.9,710.9 L346.0,712.5 L344.1,713.7 L341.2,715.3 L339.3,716.4 L336.4,718.1 L334.5,719.3 L331.7,721.0 L329.8,722.2 L327.1,723.9 L325.1,725.1 L323.1,726.3 L320.5,728.0 L318.6,729.2 L315.9,731.0 L314.0,732.2 L312.2,733.4 L309.5,735.2 L307.7,736.5 L305.7,737.8 L303.2,739.6 L301.4,740.8 L299.6,742.1 L297.0,744.0 L295.2,745.2 L293.5,746.5 L291.2,748.2 L289.2,749.8 L287.4,751.1 L285.7,752.4 L283.6,754.0 L281.5,755.7 L279.8,757.0 L278.1,758.4 L276.4,759.7 L274.4,761.4 L272.3,763.1 L270.6,764.5 L269.0,765.9 L267.4,767.3 L265.7,768.7 L264.1,770.2 L262.2,771.9 L260.3,773.5 L258.6,775.1 L257.0,776.6 L255.4,778.1 L253.9,779.5 L252.4,781.0 L250.8,782.5 L249.3,784.0 L247.8,785.5 L246.3,787.0 L244.8,788.5 L243.3,790.1 L241.9,791.6 L241.9,791.6" stroke="#c8ff00"/>
<path d="M623.2,987.2 L626.2,986.7" stroke="#ffee00"/>
<path d="M991.5,799.0 L992.5,797.3 L993.4,795.7 L994.3,794.1 L995.1,792.6 L995.9,791.1 L996.7,789.6 L997.5,788.0 L998.2,786.5 L999.0,784.9 L999.7,783.4 L1000.3,781.9 L1000.9,780.4 L1001.5,779.0 L1002.1,777.6 L1002.6,776.2 L1003.1,774.7 L1003.7,773.1 L1004.2,771.5 L1004.7,769.9 L1005.2,768.3 L1005.6,766.8 L1006.0,765.6 L1006.3,764.2 L1006.7,762.6 L1007.0,761.0 L1007.3,759.3 L1007.6,758.1 L1007.8,756.8 L1008.0,755.1 L1008.3,753.4 L1008.4,752.2 L1008.5,750.9 L1008.7,749.2 L1008.8,747.6 L1008.8,746.5 L1008.9,744.9 L1008.9,743.2 L1008.9,742.1 L1008.8,740.5 L1008.8,740.5" stroke="#ffee00"/>
<path d="M719.4,624.1 L716.3,624.3 L713.8,624.5 L710.9,624.7 L707.5,625.0 L704.2,625.3 L701.3,625.6 L698.7,625.8 L696.0,626.1 L692.7,626.4 L689.5,626.7 L686.3,627.1 L683.2,627.4 L680.0,627.8 L677.0,628.1 L674.2,628.5 L671.3,628.9 L668.3,629.3 L665.4,629.7 L662.4,630.1 L659.3,630.5 L656.2,631.0 L653.0,631.4 L649.8,631.9 L646.8,632.4 L643.9,632.9 L641.0,633.4 L638.1,633.8 L635.3,634.3 L632.4,634.8 L629.5,635.4 L625.8,636.0 L622.6,636.7 L619.8,637.2 L617.0,637.7 L614.2,638.3 L610.5,639.0 L607.4,639.7 L604.7,640.2 L602.0,640.8 L598.0,641.7 L595.3,642.3 L592.7,642.9 L589.1,643.7 L586.1,644.4 L583.4,645.0 L579.5,646.0 L576.9,646.6 L574.4,647.3 L570.5,648.2 L568.0,648.9 L564.2,649.9 L561.6,650.6 L557.8,651.6 L555.3,652.3 L551.6,653.3 L549.1,654.0 L545.4,655.0 L543.0,655.8 L539.3,656.8 L536.8,657.6 L533.2,658.7 L530.1,659.6 L527.2,660.5 L523.6,661.7 L521.2,662.4 L517.7,663.6 L514.1,664.7 L511.1,665.8 L508.3,666.7 L504.8,667.9 L501.3,669.1 L498.2,670.2 L495.5,671.2 L492.1,672.4 L488.7,673.7 L485.3,674.9 L481.9,676.2 L478.6,677.5 L476.2,678.4 L473.0,679.7 L469.7,681.0 L466.4,682.3 L463.1,683.7 L459.8,685.0 L456.6,686.4 L453.3,687.8 L451.1,688.7 L448.0,690.1 L444.8,691.5 L441.6,692.9 L438.4,694.4 L435.3,695.8 L432.1,697.3 L430.1,698.3 L427.0,699.7 L423.9,701.2 L420.8,702.8 L418.7,703.8 L415.7,705.3 L412.7,706.8 L409.6,708.4 L407.6,709.4 L404.6,711.0 L402.1,712.4 L399.7,713.7 L396.7,715.3 L394.8,716.4 L391.8,718.0 L389.6,719.3 L387.0,720.8 L384.3,722.4 L382.2,723.6 L379.4,725.3 L377.5,726.4 L374.7,728.1 L372.8,729.3 L370.5,730.7 L368.1,732.2 L366.3,733.4 L363.5,735.2 L361.7,736.4 L359.0,738.2 L357.2,739.4 L355.4,740.6 L352.7,742.5 L350.9,743.7 L349.1,745.0 L346.5,746.8 L344.7,748.1 L343.0,749.4 L340.5,751.3 L338.7,752.6 L337.0,753.9 L335.2,755.3 L332.8,757.2 L331.1,758.5 L329.4,759.8 L327.8,761.2 L325.7,762.9 L323.7,764.6 L322.1,766.0 L320.4,767.3 L318.8,768.7 L317.3,770.1 L315.4,771.8 L313.6,773.5 L311.8,775.1 L310.2,776.6 L308.7,778.0 L307.2,779.5 L305.7,781.0 L304.2,782.4 L302.7,783.9 L301.3,785.4 L299.8,786.9 L298.4,788.5 L297.0,790.0 L295.5,791.6 L294.1,793.1 L292.8,794.7 L291.4,796.3 L290.0,797.9 L288.7,799.5 L287.4,801.1 L286.1,802.7 L284.8,804.4 L283.7,805.8 L282.6,807.2 L281.6,808.6 L280.4,810.2 L279.8,811.1" stroke="#ffee00"/>
<path d="M561.2,955.4 L564.8,955.1 L567.7,954.9 L572.1,954.6 L576.3,954.3 L579.3,954.0 L582.6,953.7 L586.7,953.3 L590.8,952.9 L594.6,952.5 L597.8,952.1 L601.0,951.7 L604.8,951.3 L608.7,950.8 L612.6,950.2 L616.4,949.7 L620.2,949.1 L623.9,948.5 L627.7,947.9 L631.3,947.3 L635.0,946.7 L638.6,946.1 L642.2,945.4 L645.8,944.7 L649.3,944.1 L652.8,943.4 L656.3,942.7 L659.7,941.9 L663.8,941.1 L668.1,940.1 L671.5,939.3 L674.8,938.6 L678.1,937.8 L681.7,936.9 L686.3,935.8 L689.5,935.0 L692.6,934.1 L696.4,933.2 L700.5,932.0 L703.6,931.2 L707.0,930.2 L711.2,929.0 L714.2,928.1 L718.5,926.8 L721.7,925.8 L724.6,924.9 L729.0,923.5 L731.9,922.6 L736.2,921.2 L739.0,920.2 L743.2,918.8 L746.0,917.8 L750.1,916.3 L753.5,915.1 L756.9,913.8 L760.9,912.3 L763.6,911.3 L767.6,909.7 L771.5,908.2 L774.0,907.1 L777.9,905.6 L781.7,904.0 L785.4,902.4 L787.9,901.3 L791.6,899.7 L795.2,898.0 L798.8,896.4 L802.4,894.7 L805.9,893.0 L809.4,891.3 L811.6,890.2 L815.1,888.5 L818.4,886.8 L821.8,885.0 L824.6,883.5 L827.2,882.1 L830.5,880.3 L833.6,878.6 L836.8,876.8 L839.9,875.0 L843.0,873.2 L846.0,871.3 L848.0,870.1 L851.0,868.3 L853.9,866.4 L856.6,864.7 L858.7,863.3 L861.5,861.4 L864.3,859.6 L866.1,858.3 L868.9,856.4 L870.6,855.1 L873.3,853.2 L875.9,851.2 L877.6,849.9 L880.2,848.0 L881.9,846.7 L884.3,844.7 L886.0,843.4 L888.4,841.4 L890.0,840.1 L892.1,838.2 L893.9,836.7 L895.4,835.4 L897.6,833.3 L899.1,832.0 L900.9,830.2 L902.7,828.5 L904.1,827.2 L905.9,825.4 L907.6,823.7 L908.9,822.3 L910.2,820.9 L912.2,818.8 L913.4,817.4 L914.7,815.9 L915.9,814.5 L917.6,812.5 L918.9,810.9 L920.1,809.5 L921.2,808.0 L922.3,806.6 L923.5,805.0 L924.8,803.2 L926.1,801.4 L927.1,799.9 L928.1,798.4 L929.0,796.9 L930.0,795.4 L930.9,793.9 L931.8,792.4 L932.7,790.9 L933.5,789.3 L934.4,787.8 L935.2,786.3 L935.9,784.7 L936.7,783.1 L937.4,781.6 L938.1,780.0 L938.7,778.4 L939.4,776.8 L939.9,775.5 L940.4,774.1 L940.8,772.8 L941.4,771.2 L941.9,769.5 L942.3,767.9 L942.7,766.4 L943.0,765.1 L943.3,763.7 L943.7,762.0 L944.0,760.3 L944.2,759.1 L944.4,757.8 L944.6,756.1 L944.7,754.5 L944.8,753.4 L944.9,751.7 L944.9,750.1 L945.0,749.0 L944.9,747.2 L944.9,745.9 L944.8,744.5 L944.7,742.8 L944.6,741.7 L944.4,739.9 L944.2,738.8 L943.9,737.0 L943.7,735.9 L943.3,734.1 L943.0,733.0 L942.5,731.2 L942.2,730.2 L941.7,728.5 L941.2,727.1 L940.7,725.8 L940.0,724.1 L939.6,723.0 L938.9,721.5 L938.1,719.8 L937.5,718.7 L936.8,717.4 L935.9,715.8 L934.9,714.2 L934.1,713.0 L933.4,711.8 L932.3,710.3 L931.6,709.4" stroke="#ffa500"/>
<path d="M788.4,651.9 L785.1,651.6 L781.5,651.3 L778.4,651.1 L775.9,651.0 L772.5,650.8 L768.9,650.6 L766.6,650.5 L763.2,650.4 L760.0,650.3 L757.4,650.3 L753.5,650.2 L751.4,650.2 L747.4,650.2 L745.2,650.2 L741.2,650.2 L739.1,650.2 L735.3,650.3 L732.6,650.4 L729.5,650.4 L726.0,650.6 L723.8,650.6 L720.1,650.8 L716.9,651.0 L714.5,651.1 L711.1,651.3 L707.6,651.5 L704.9,651.7 L702.3,651.9 L698.9,652.2 L695.5,652.5 L692.2,652.8 L689.6,653.0 L686.9,653.3 L683.8,653.6 L680.6,654.0 L677.4,654.3 L674.2,654.7 L671.0,655.1 L667.8,655.5 L664.7,655.9 L661.6,656.3 L658.6,656.8 L655.5,657.2 L652.5,657.7 L649.5,658.2 L646.5,658.6 L643.6,659.1 L640.6,659.6 L637.7,660.1 L634.6,660.7 L631.0,661.4 L627.7,662.0 L624.8,662.5 L622.0,663.1 L619.2,663.7 L615.5,664.4 L612.3,665.1 L609.5,665.7 L606.8,666.3 L602.8,667.2 L600.1,667.9 L597.4,668.5 L593.4,669.5 L590.8,670.1 L588.0,670.8 L584.2,671.8 L581.6,672.4 L577.8,673.5 L575.2,674.2 L571.4,675.2 L568.9,675.9 L565.1,677.0 L562.6,677.7 L558.9,678.8 L556.4,679.6 L552.7,680.7 L549.8,681.6 L546.7,682.6 L543.0,683.8 L540.6,684.6 L537.1,685.8 L533.5,687.0 L530.0,688.2 L527.7,689.0 L524.2,690.3 L520.7,691.5 L517.3,692.8 L513.8,694.1 L511.6,695.0 L508.2,696.3 L504.8,697.6 L501.5,699.0 L498.1,700.3 L494.8,701.7 L491.6,703.1 L488.3,704.5 L485.1,705.9 L481.9,707.4 L478.7,708.8 L476.5,709.8 L473.4,711.2 L470.2,712.7 L467.1,714.2 L464.0,715.8 L462.0,716.8 L458.9,718.3 L455.9,719.9 L452.8,721.5 L450.8,722.5 L447.9,724.1 L444.9,725.7 L442.9,726.8 L440.0,728.5 L438.1,729.6 L435.2,731.2 L432.8,732.6 L430.4,734.0 L427.7,735.7 L425.7,736.9 L423.1,738.5 L421.0,739.8 L418.9,741.2 L416.4,742.8 L414.6,744.0 L411.9,745.8 L410.1,747.0 L407.8,748.6 L405.7,750.1 L404.0,751.4 L401.5,753.1 L399.6,754.5 L397.9,755.8 L395.8,757.4 L393.7,759.0 L392.0,760.3 L390.4,761.7 L388.2,763.4 L386.3,765.0 L384.7,766.4 L383.1,767.7 L381.5,769.1 L379.5,770.8 L377.6,772.6 L376.0,774.0 L374.5,775.4 L373.0,776.8 L371.5,778.3 L370.0,779.7 L368.6,781.2 L367.0,782.8 L365.5,784.4 L364.0,786.0 L362.6,787.5 L361.2,789.1 L359.8,790.6 L358.5,792.1 L357.2,793.6 L356.0,795.1 L354.8,796.6 L353.6,798.1 L352.3,799.8 L351.1,801.4 L349.9,803.0 L348.7,804.7 L347.6,806.4 L346.6,807.9 L345.7,809.2 L344.8,810.7 L343.7,812.4 L342.7,814.2 L341.7,815.8 L341.0,817.1 L340.2,818.7 L339.2,820.5 L338.4,822.2 L337.8,823.4 L337.0,825.2 L336.2,827.1 L335.7,828.3 L335.0,830.0 L334.3,831.9 L333.9,833.1 L333.3,835.0 L332.8,836.6 L332.4,838.0 L332.4,838.0" stroke="#ffa500"/>
<path d="M539.5,724.7 L536.2,726.1 L534.0,727.1 L530.8,728.6 L527.6,730.0 L524.4,731.5 L521.2,733.0 L518.1,734.6 L515.0,736.1 L512.9,737.2 L509.9,738.8 L506.9,740.4 L504.3,741.8 L502.0,743.1 L499.0,744.8 L497.1,745.9 L494.2,747.6 L491.9,749.0 L489.5,750.5 L487.1,752.0 L485.0,753.4 L482.9,754.8 L480.5,756.4 L478.7,757.7 L476.1,759.5 L474.3,760.8 L472.5,762.1 L470.1,764.0 L468.4,765.2 L466.8,766.6 L464.3,768.5 L462.7,769.9 L461.1,771.2 L459.6,772.6 L457.6,774.3 L455.7,776.0 L454.3,777.4 L452.8,778.9 L451.3,780.3 L449.9,781.7 L448.5,783.2 L447.1,784.7 L445.7,786.3 L444.3,787.9 L443.0,789.4 L441.7,791.0 L440.5,792.5 L439.4,793.9 L438.2,795.5 L437.0,797.1 L435.9,798.8 L434.8,800.4 L433.8,802.1 L432.8,803.7 L432.0,805.0 L431.3,806.4 L430.3,808.2 L429.5,809.9 L428.8,811.5 L428.2,812.7 L427.5,814.5 L426.8,816.3 L426.3,817.5 L425.8,819.3 L425.3,821.0 L424.9,822.3 L424.4,824.3 L424.2,825.5 L423.9,827.4 L423.7,828.8 L423.5,830.6 L423.4,832.0 L423.3,834.0 L423.3,835.1 L423.3,837.2 L423.4,838.6 L423.6,840.1 L423.8,842.1 L424.1,843.6 L424.4,845.0 L424.8,846.8 L425.4,848.7 L425.9,850.3 L426.5,851.7 L427.1,853.2 L427.8,854.9 L428.7,856.6 L429.6,858.3 L430.7,859.9 L431.7,861.5 L433.0,863.2 L434.5,865.2 L436.1,867.0 L437.5,868.5 L438.9,870.0 L441.2,872.1 L442.8,873.6 L444.8,875.1 L447.2,877.0 L449.9,878.9 L451.9,880.2 L454.9,882.1 L458.1,883.9 L461.4,885.6 L464.9,887.3 L468.5,888.9 L472.3,890.5 L474.9,891.5 L479.0,892.9 L481.7,893.8 L486.0,895.2 L489.0,896.0 L492.6,897.0 L496.7,898.0 L499.9,898.7 L503.2,899.4 L506.5,900.1 L510.0,900.7 L513.5,901.3 L517.1,901.9 L520.8,902.4 L524.6,902.8 L528.4,903.3 L532.1,903.6 L535.0,903.9 L538.5,904.2 L542.7,904.5 L546.1,904.6 L549.2,904.8 L553.6,904.9 L556.4,905.0 L560.5,905.1 L563.7,905.1 L567.7,905.1 L570.8,905.0 L575.1,904.9 L577.7,904.9 L582.1,904.7 L585.5,904.5 L588.6,904.4 L592.8,904.1 L596.5,903.8 L599.4,903.6 L603.1,903.2 L607.1,902.9 L611.0,902.4 L614.4,902.1 L617.6,901.7 L620.8,901.3 L624.4,900.8 L628.1,900.3 L631.7,899.7 L635.3,899.1 L638.9,898.6 L642.4,897.9 L645.9,897.3 L649.3,896.7 L653.1,895.9 L657.2,895.1 L661.0,894.3 L664.3,893.6 L667.5,892.8 L670.7,892.1 L674.8,891.1 L678.6,890.1 L681.7,889.3 L684.7,888.5 L689.2,887.3 L692.2,886.5 L695.6,885.5 L699.5,884.3 L702.4,883.4 L706.7,882.1 L709.5,881.2 L713.6,879.8 L716.4,878.9 L720.4,877.5 L723.2,876.5 L727.1,875.0 L731.0,873.6 L733.6,872.6 L737.4,871.1 L741.1,869.5 L744.8,868.0 L747.3,866.9 L750.9,865.4 L754.5,863.8 L758.0,862.2 L761.4,860.5 L764.9,858.9 L768.2,857.2 L771.5,855.5 L774.8,853.8 L778.0,852.1 L781.1,850.4 L784.2,848.6 L786.3,847.4 L789.3,845.7 L792.3,843.9 L795.2,842.0 L797.1,840.8 L799.9,839.0 L802.7,837.1 L804.5,835.9 L807.2,834.0 L809.0,832.7 L811.6,830.8 L813.7,829.3 L815.8,827.6 L817.7,826.2 L819.9,824.3 L821.5,823.0 L823.9,821.0 L825.4,819.7 L827.2,818.1 L829.1,816.3 L830.5,814.9 L832.1,813.4 L834.0,811.5 L835.4,810.1 L836.7,808.7 L838.2,807.0 L839.9,805.1 L841.1,803.7 L842.3,802.2 L843.5,800.8 L844.6,799.3 L845.8,797.7 L847.1,796.0 L848.3,794.4 L849.3,792.7 L850.4,791.1 L851.3,789.6 L852.2,788.0 L853.1,786.5 L853.8,785.1 L854.6,783.6 L855.3,782.2 L855.9,780.8 L856.5,779.4 L857.2,777.7 L857.8,776.1 L858.3,774.5 L858.8,772.9 L859.2,771.6 L859.6,770.3 L860.0,768.6 L860.3,766.8 L860.5,765.7 L860.7,764.2 L860.9,762.4 L861.1,761.1 L861.1,759.7 L861.2,757.9 L861.2,756.9 L861.1,755.1 L861.0,753.8 L860.9,752.2 L860.7,750.8 L860.4,749.3 L860.1,747.9 L859.7,746.2 L859.4,745.1 L858.9,743.3 L858.4,742.0 L857.9,740.7 L857.2,739.0 L856.5,737.6 L855.9,736.5 L855.1,734.9 L854.1,733.3 L853.1,731.7 L852.2,730.4 L851.2,729.1 L850.2,727.8 L849.0,726.4 L847.8,725.0 L846.4,723.5 L844.8,722.0 L843.1,720.4 L841.5,719.0 L839.9,717.7 L838.3,716.5 L836.1,714.8 L834.1,713.5 L832.3,712.3 L829.6,710.6 L827.7,709.6 L824.8,708.0 L821.7,706.4 L819.0,705.1 L816.4,704.0 L813.1,702.6 L809.7,701.3 L807.3,700.4 L803.7,699.2 L799.9,698.0 L797.4,697.2 L793.5,696.1 L790.8,695.4 L786.8,694.5 L783.9,693.8 L781.0,693.2 L778.1,692.6 L774.5,692.0 L770.9,691.4 L767.6,690.9 L764.4,690.4 L761.3,690.0 L758.4,689.7 L755.5,689.4 L752.4,689.1 L748.9,688.7 L745.3,688.5 L742.4,688.3 L739.8,688.1 L736.0,687.9 L732.9,687.8 L730.2,687.7 L726.2,687.6 L724.0,687.6 L720.0,687.6 L717.7,687.6 L713.6,687.7 L711.4,687.7 L707.6,687.8 L704.7,687.9 L701.9,688.0 L698.1,688.2 L695.2,688.4 L692.6,688.5 L689.0,688.8 L685.5,689.1 L682.6,689.3 L679.9,689.6 L676.8,689.9 L673.5,690.2 L670.1,690.6 L666.9,691.0 L663.6,691.4 L660.4,691.9 L657.2,692.3 L654.1,692.8 L651.0,693.2 L648.0,693.7 L644.9,694.2 L641.9,694.8 L638.9,695.3 L636.0,695.9 L632.3,696.6 L628.8,697.3 L625.9,697.9 L623.1,698.5 L620.0,699.2 L616.1,700.1 L613.4,700.7 L610.6,701.4 L606.6,702.4 L603.9,703.1 L600.5,704.0 L597.3,704.8 L594.7,705.5 L590.8,706.6 L588.3,707.4 L584.5,708.5 L581.2,709.5 L578.2,710.5 L574.5,711.7 L572.1,712.5 L568.5,713.7 L564.9,714.9 L562.2,715.9 L558.9,717.1 L555.4,718.4 L552.0,719.7 L548.5,721.0 L545.1,722.4 L541.8,723.8 L539.5,724.7 L539.5,724.7" stroke="#ff6000"/>
</g>
<line x1="185.5" y1="763.0" x2="624.2" y2="987.5" stroke="#000" stroke-width="2.9" />
<line x1="624.2" y1="987.5" x2="1063.0" y2="762.5" stroke="#000" stroke-width="2.9" />
<line x1="1063.0" y1="762.5" x2="624.5" y2="585.6" stroke="#000" stroke-width="2.3" />
<line x1="624.5" y1="585.6" x2="185.5" y2="763.0" stroke="#000" stroke-width="2.3" />
<rect x="174.8" y="604.7" width="7.5" height="7.5" fill="#000"/>
<rect x="170.3" y="506.3" width="7.5" height="7.5" fill="#000"/>
<rect x="165.9" y="407.8" width="7.5" height="7.5" fill="#000"/>
<rect x="161.4" y="309.4" width="7.5" height="7.5" fill="#000"/>
<rect x="157.0" y="211.0" width="7.5" height="7.5" fill="#000"/>
<rect x="152.6" y="112.5" width="7.5" height="7.5" fill="#000"/>
<rect x="620.5" y="983.8" width="7.5" height="7.5" fill="#000"/>
<rect x="532.7" y="938.9" width="7.5" height="7.5" fill="#000"/>
<rect x="445.0" y="894.0" width="7.5" height="7.5" fill="#000"/>
<rect x="357.2" y="849.0" width="7.5" height="7.5" fill="#000"/>
<rect x="269.5" y="804.1" width="7.5" height="7.5" fill="#000"/>
<rect x="181.8" y="759.2" width="7.5" height="7.5" fill="#000"/>
<rect x="620.5" y="983.8" width="7.5" height="7.5" fill="#000"/>
<rect x="693.6" y="946.2" width="7.5" height="7.5" fill="#000"/>
<rect x="766.7" y="908.8" width="7.5" height="7.5" fill="#000"/>
<rect x="839.9" y="871.2" width="7.5" height="7.5" fill="#000"/>
<rect x="913.0" y="833.8" width="7.5" height="7.5" fill="#000"/>
<rect x="986.1" y="796.2" width="7.5" height="7.5" fill="#000"/>
<rect x="1059.2" y="758.8" width="7.5" height="7.5" fill="#000"/>
<rect x="622.5" y="583.6" width="4" height="4" fill="#000"/>
<circle cx="377" cy="314" r="9.5" fill="#f7c3cb" stroke="#000" stroke-width="1.5"/>
<circle cx="871" cy="333" r="9.0" fill="#f7c3cb" stroke="#000" stroke-width="1.5"/>
<circle cx="406.4" cy="236" r="9.5" fill="#c80000" stroke="#5a0000" stroke-width="1.5"/>
<circle cx="841.5" cy="174" r="9.5" fill="#c80000" stroke="#5a0000" stroke-width="1.5"/>
<g stroke="#000" stroke-width="1.4" stroke-opacity="0.9" stroke-linejoin="round">
<polygon points="624.4,204.8 644.8,195.3 624.4,195.7 603.9,205.3" fill="url(#g0_0)"/>
<polygon points="603.9,205.3 624.4,195.7 603.6,196.7 583.2,206.5" fill="url(#g0_1)"/>
<polygon points="644.8,195.3 665.6,187.1 645.1,187.4 624.4,195.7" fill="url(#g1_0)"/>
<polygon points="583.2,206.5 603.6,196.7 582.7,198.5 562.3,208.4" fill="url(#g0_2)"/>
<polygon points="624.4,195.7 645.1,187.4 624.3,188.3 603.6,196.7" fill="url(#g1_1)"/>
<polygon points="665.6,187.1 686.6,180.3 666.1,180.4 645.1,187.4" fill="url(#g2_0)"/>
<polygon points="562.3,208.4 582.7,198.5 561.4,200.8 541.1,210.9" fill="url(#g0_3)"/>
<polygon points="603.6,196.7 624.3,188.3 603.3,189.9 582.7,198.5" fill="url(#g1_2)"/>
<polygon points="645.1,187.4 666.1,180.4 645.3,181.2 624.3,188.3" fill="url(#g2_1)"/>
<polygon points="686.6,180.3 707.9,174.8 687.4,174.8 666.1,180.4" fill="url(#g3_0)"/>
<polygon points="541.1,210.9 561.4,200.8 539.9,203.9 519.6,214.0" fill="url(#g0_4)"/>
<polygon points="582.7,198.5 603.3,189.9 582.1,192.1 561.4,200.8" fill="url(#g1_3)"/>
<polygon points="624.3,188.3 645.3,181.2 624.3,182.7 603.3,189.9" fill="url(#g2_2)"/>
<polygon points="666.1,180.4 687.4,174.8 666.6,175.5 645.3,181.2" fill="url(#g3_1)"/>
<polygon points="707.9,174.8 729.5,170.7 709.0,170.7 687.4,174.8" fill="url(#g4_0)"/>
<polygon points="519.6,214.0 539.9,203.9 518.2,207.6 497.9,217.9" fill="url(#g0_5)"/>
<polygon points="561.4,200.8 582.1,192.1 560.6,195.1 539.9,203.9" fill="url(#g1_4)"/>
<polygon points="603.3,189.9 624.3,182.7 603.0,184.8 582.1,192.1" fill="url(#g2_3)"/>
<polygon points="645.3,181.2 666.6,175.5 645.6,176.9 624.3,182.7" fill="url(#g3_2)"/>
<polygon points="687.4,174.8 709.0,170.7 688.2,171.3 666.6,175.5" fill="url(#g4_1)"/>
<polygon points="729.5,170.7 751.3,168.1 730.8,167.9 709.0,170.7" fill="url(#g5_0)"/>
<polygon points="497.9,217.9 518.2,207.6 496.2,212.1 475.9,222.5" fill="url(#g0_6)"/>
<polygon points="539.9,203.9 560.6,195.1 538.8,198.7 518.2,207.6" fill="url(#g1_5)"/>
<polygon points="582.1,192.1 603.0,184.8 581.5,187.7 560.6,195.1" fill="url(#g2_4)"/>
<polygon points="624.3,182.7 645.6,176.9 624.3,178.9 603.0,184.8" fill="url(#g3_3)"/>
<polygon points="666.6,175.5 688.2,171.3 667.2,172.5 645.6,176.9" fill="url(#g4_2)"/>
<polygon points="709.0,170.7 730.8,167.9 710.1,168.4 688.2,171.3" fill="url(#g5_1)"/>
<polygon points="751.3,168.1 773.5,167.0 753.0,166.7 730.8,167.9" fill="url(#g6_0)"/>
<polygon points="475.9,222.5 496.2,212.1 473.9,217.3 453.7,227.8" fill="url(#g0_7)"/>
<polygon points="518.2,207.6 538.8,198.7 516.7,203.1 496.2,212.1" fill="url(#g1_6)"/>
<polygon points="560.6,195.1 581.5,187.7 559.7,191.2 538.8,198.7" fill="url(#g2_5)"/>
<polygon points="603.0,184.8 624.3,178.9 602.7,181.7 581.5,187.7" fill="url(#g3_4)"/>
<polygon points="645.6,176.9 667.2,172.5 645.9,174.4 624.3,178.9" fill="url(#g4_3)"/>
<polygon points="688.2,171.3 710.1,168.4 689.0,169.6 667.2,172.5" fill="url(#g5_2)"/>
<polygon points="730.8,167.9 753.0,166.7 732.2,167.1 710.1,168.4" fill="url(#g6_1)"/>
<polygon points="773.5,167.0 795.9,167.3 775.4,166.9 753.0,166.7" fill="url(#g7_0)"/>
<polygon points="453.7,227.8 473.9,217.3 451.3,223.2 431.2,233.8" fill="url(#g0_8)"/>
<polygon points="496.2,212.1 516.7,203.1 494.4,208.2 473.9,217.3" fill="url(#g1_7)"/>
<polygon points="538.8,198.7 559.7,191.2 537.6,195.5 516.7,203.1" fill="url(#g2_6)"/>
<polygon points="581.5,187.7 602.7,181.7 580.9,185.1 559.7,191.2" fill="url(#g3_5)"/>
<polygon points="624.3,178.9 645.9,174.4 624.3,177.1 602.7,181.7" fill="url(#g4_4)"/>
<polygon points="667.2,172.5 689.0,169.6 667.7,171.4 645.9,174.4" fill="url(#g5_3)"/>
<polygon points="710.1,168.4 732.2,167.1 711.2,168.2 689.0,169.6" fill="url(#g6_2)"/>
<polygon points="753.0,166.7 775.4,166.9 754.7,167.3 732.2,167.1" fill="url(#g7_1)"/>
<polygon points="795.9,167.3 818.5,169.2 798.1,168.7 775.4,166.9" fill="url(#g8_0)"/>
<polygon points="431.2,233.8 451.3,223.2 428.5,229.8 408.5,240.5" fill="url(#g0_9)"/>
<polygon points="473.9,217.3 494.4,208.2 471.8,214.0 451.3,223.2" fill="url(#g1_8)"/>
<polygon points="516.7,203.1 537.6,195.5 515.2,200.4 494.4,208.2" fill="url(#g2_7)"/>
<polygon points="559.7,191.2 580.9,185.1 558.8,189.2 537.6,195.5" fill="url(#g3_6)"/>
<polygon points="602.7,181.7 624.3,177.1 602.4,180.4 580.9,185.1" fill="url(#g4_5)"/>
<polygon points="645.9,174.4 667.7,171.4 646.1,174.0 624.3,177.1" fill="url(#g5_4)"/>
<polygon points="689.0,169.6 711.2,168.2 689.9,169.9 667.7,171.4" fill="url(#g6_3)"/>
<polygon points="732.2,167.1 754.7,167.3 733.6,168.3 711.2,168.2" fill="url(#g7_2)"/>
<polygon points="775.4,166.9 798.1,168.7 777.4,169.0 754.7,167.3" fill="url(#g8_1)"/>
<polygon points="818.5,169.2 841.5,172.6 821.0,172.1 798.1,168.7" fill="url(#g9_0)"/>
<polygon points="408.5,240.5 428.5,229.8 405.5,237.2 385.5,248.0" fill="url(#g0_10)"/>
<polygon points="451.3,223.2 471.8,214.0 449.0,220.5 428.5,229.8" fill="url(#g1_9)"/>
<polygon points="494.4,208.2 515.2,200.4 492.6,206.1 471.8,214.0" fill="url(#g2_8)"/>
<polygon points="537.6,195.5 558.8,189.2 536.4,194.1 515.2,200.4" fill="url(#g3_7)"/>
<polygon points="580.9,185.1 602.4,180.4 580.3,184.5 558.8,189.2" fill="url(#g4_6)"/>
<polygon points="624.3,177.1 646.1,174.0 624.3,177.2 602.4,180.4" fill="url(#g5_5)"/>
<polygon points="667.7,171.4 689.9,169.9 668.3,172.4 646.1,174.0" fill="url(#g6_4)"/>
<polygon points="711.2,168.2 733.6,168.3 712.3,169.9 689.9,169.9" fill="url(#g7_3)"/>
<polygon points="754.7,167.3 777.4,169.0 756.4,169.9 733.6,168.3" fill="url(#g8_2)"/>
<polygon points="798.1,168.7 821.0,172.1 800.3,172.3 777.4,169.0" fill="url(#g9_1)"/>
<polygon points="841.5,172.6 864.6,177.6 844.3,177.0 821.0,172.1" fill="url(#g10_0)"/>
<polygon points="385.5,248.0 405.5,237.2 382.2,245.4 362.2,256.2" fill="url(#g0_11)"/>
<polygon points="428.5,229.8 449.0,220.5 425.9,227.8 405.5,237.2" fill="url(#g1_10)"/>
<polygon points="471.8,214.0 492.6,206.1 469.7,212.6 449.0,220.5" fill="url(#g2_9)"/>
<polygon points="515.2,200.4 536.4,194.1 513.7,199.8 492.6,206.1" fill="url(#g3_8)"/>
<polygon points="558.8,189.2 580.3,184.5 557.9,189.3 536.4,194.1" fill="url(#g4_7)"/>
<polygon points="602.4,180.4 624.3,177.2 602.1,181.2 580.3,184.5" fill="url(#g5_6)"/>
<polygon points="646.1,174.0 668.3,172.4 646.4,175.6 624.3,177.2" fill="url(#g6_5)"/>
<polygon points="689.9,169.9 712.3,169.9 690.7,172.3 668.3,172.4" fill="url(#g7_4)"/>
<polygon points="733.6,168.3 756.4,169.9 735.1,171.5 712.3,169.9" fill="url(#g8_3)"/>
<polygon points="777.4,169.0 800.3,172.3 779.4,173.1 756.4,169.9" fill="url(#g9_2)"/>
<polygon points="821.0,172.1 844.3,177.0 823.6,177.2 800.3,172.3" fill="url(#g10_1)"/>
<polygon points="864.6,177.6 888.1,184.2 867.7,183.6 844.3,177.0" fill="url(#g11_0)"/>
<polygon points="362.2,256.2 382.2,245.4 358.6,254.3 338.7,265.3" fill="url(#g0_12)"/>
<polygon points="405.5,237.2 425.9,227.8 402.5,235.9 382.2,245.4" fill="url(#g1_11)"/>
<polygon points="449.0,220.5 469.7,212.6 446.6,219.8 425.9,227.8" fill="url(#g2_10)"/>
<polygon points="492.6,206.1 513.7,199.8 490.8,206.1 469.7,212.6" fill="url(#g3_9)"/>
<polygon points="536.4,194.1 557.9,189.3 535.2,194.9 513.7,199.8" fill="url(#g4_8)"/>
<polygon points="580.3,184.5 602.1,181.2 579.7,186.0 557.9,189.3" fill="url(#g5_7)"/>
<polygon points="624.3,177.2 646.4,175.6 624.2,179.5 602.1,181.2" fill="url(#g6_6)"/>
<polygon points="668.3,172.4 690.7,172.3 668.9,175.5 646.4,175.6" fill="url(#g7_5)"/>
<polygon points="712.3,169.9 735.1,171.5 713.5,173.9 690.7,172.3" fill="url(#g8_4)"/>
<polygon points="756.4,169.9 779.4,173.1 758.1,174.7 735.1,171.5" fill="url(#g9_3)"/>
<polygon points="800.3,172.3 823.6,177.2 802.6,178.0 779.4,173.1" fill="url(#g10_2)"/>
<polygon points="844.3,177.0 867.7,183.6 847.1,183.7 823.6,177.2" fill="url(#g11_1)"/>
<polygon points="888.1,184.2 911.7,192.4 891.4,191.8 867.7,183.6" fill="url(#g12_0)"/>
<polygon points="338.7,265.3 358.6,254.3 334.7,264.1 314.9,275.1" fill="url(#g0_13)"/>
<polygon points="382.2,245.4 402.5,235.9 378.8,244.8 358.6,254.3" fill="url(#g1_12)"/>
<polygon points="425.9,227.8 446.6,219.8 423.1,227.8 402.5,235.9" fill="url(#g2_11)"/>
<polygon points="469.7,212.6 490.8,206.1 467.6,213.3 446.6,219.8" fill="url(#g3_10)"/>
<polygon points="513.7,199.8 535.2,194.9 512.2,201.2 490.8,206.1" fill="url(#g4_9)"/>
<polygon points="557.9,189.3 579.7,186.0 557.0,191.4 535.2,194.9" fill="url(#g5_8)"/>
<polygon points="602.1,181.2 624.2,179.5 601.8,184.2 579.7,186.0" fill="url(#g6_7)"/>
<polygon points="646.4,175.6 668.9,175.5 646.7,179.3 624.2,179.5" fill="url(#g7_6)"/>
<polygon points="690.7,172.3 713.5,173.9 691.6,176.9 668.9,175.5" fill="url(#g8_5)"/>
<polygon points="735.1,171.5 758.1,174.7 736.5,177.0 713.5,173.9" fill="url(#g9_4)"/>
<polygon points="779.4,173.1 802.6,178.0 781.4,179.5 758.1,174.7" fill="url(#g10_3)"/>
<polygon points="823.6,177.2 847.1,183.7 826.1,184.5 802.6,178.0" fill="url(#g11_2)"/>
<polygon points="867.7,183.6 891.4,191.8 870.8,191.9 847.1,183.7" fill="url(#g12_1)"/>
<polygon points="911.7,192.4 935.6,202.4 915.4,201.7 891.4,191.8" fill="url(#g13_0)"/>
<polygon points="314.9,275.1 334.7,264.1 310.6,274.6 290.9,285.7" fill="url(#g0_14)"/>
<polygon points="358.6,254.3 378.8,244.8 354.9,254.4 334.7,264.1" fill="url(#g1_13)"/>
<polygon points="402.5,235.9 423.1,227.8 399.4,236.6 378.8,244.8" fill="url(#g2_12)"/>
<polygon points="446.6,219.8 467.6,213.3 444.1,221.2 423.1,227.8" fill="url(#g3_11)"/>
<polygon points="490.8,206.1 512.2,201.2 489.0,208.3 467.6,213.3" fill="url(#g4_10)"/>
<polygon points="535.2,194.9 557.0,191.4 534.0,197.7 512.2,201.2" fill="url(#g5_9)"/>
<polygon points="579.7,186.0 601.8,184.2 579.1,189.6 557.0,191.4" fill="url(#g6_8)"/>
<polygon points="624.2,179.5 646.7,179.3 624.2,183.9 601.8,184.2" fill="url(#g7_7)"/>
<polygon points="668.9,175.5 691.6,176.9 669.4,180.7 646.7,179.3" fill="url(#g8_6)"/>
<polygon points="713.5,173.9 736.5,177.0 714.6,180.0 691.6,176.9" fill="url(#g9_5)"/>
<polygon points="758.1,174.7 781.4,179.5 759.8,181.7 736.5,177.0" fill="url(#g10_4)"/>
<polygon points="802.6,178.0 826.1,184.5 804.9,185.9 781.4,179.5" fill="url(#g11_3)"/>
<polygon points="847.1,183.7 870.8,191.9 849.9,192.6 826.1,184.5" fill="url(#g12_2)"/>
<polygon points="891.4,191.8 915.4,201.7 894.8,201.7 870.8,191.9" fill="url(#g13_1)"/>
<polygon points="935.6,202.4 959.8,213.9 939.6,213.3 915.4,201.7" fill="url(#g14_0)"/>
<polygon points="290.9,285.7 310.6,274.6 286.3,285.9 266.6,297.1" fill="url(#g0_15)"/>
<polygon points="334.7,264.1 354.9,254.4 330.7,264.9 310.6,274.6" fill="url(#g1_14)"/>
<polygon points="378.8,244.8 399.4,236.6 375.4,246.2 354.9,254.4" fill="url(#g2_13)"/>
<polygon points="423.1,227.8 444.1,221.2 420.4,230.0 399.4,236.6" fill="url(#g3_12)"/>
<polygon points="467.6,213.3 489.0,208.3 465.4,216.1 444.1,221.2" fill="url(#g4_11)"/>
<polygon points="512.2,201.2 534.0,197.7 510.7,204.7 489.0,208.3" fill="url(#g5_10)"/>
<polygon points="557.0,191.4 579.1,189.6 556.0,195.8 534.0,197.7" fill="url(#g6_9)"/>
<polygon points="601.8,184.2 624.2,183.9 601.5,189.3 579.1,189.6" fill="url(#g7_8)"/>
<polygon points="646.7,179.3 669.4,180.7 647.0,185.3 624.2,183.9" fill="url(#g8_7)"/>
<polygon points="691.6,176.9 714.6,180.0 692.5,183.7 669.4,180.7" fill="url(#g9_6)"/>
<polygon points="736.5,177.0 759.8,181.7 737.9,184.7 714.6,180.0" fill="url(#g10_5)"/>
<polygon points="781.4,179.5 804.9,185.9 783.4,188.1 759.8,181.7" fill="url(#g11_4)"/>
<polygon points="826.1,184.5 849.9,192.6 828.7,194.1 804.9,185.9" fill="url(#g12_3)"/>
<polygon points="870.8,191.9 894.8,201.7 874.0,202.4 849.9,192.6" fill="url(#g13_2)"/>
<polygon points="915.4,201.7 939.6,213.3 919.1,213.3 894.8,201.7" fill="url(#g14_1)"/>
<polygon points="959.8,213.9 984.1,227.2 964.0,226.6 939.6,213.3" fill="url(#g15_0)"/>
<polygon points="266.6,297.1 286.3,285.9 261.6,298.1 242.1,309.3" fill="url(#g0_16)"/>
<polygon points="310.6,274.6 330.7,264.9 306.3,276.2 286.3,285.9" fill="url(#g1_15)"/>
<polygon points="354.9,254.4 375.4,246.2 351.2,256.7 330.7,264.9" fill="url(#g2_14)"/>
<polygon points="399.4,236.6 420.4,230.0 396.3,239.5 375.4,246.2" fill="url(#g3_13)"/>
<polygon points="444.1,221.2 465.4,216.1 441.6,224.8 420.4,230.0" fill="url(#g4_12)"/>
<polygon points="489.0,208.3 510.7,204.7 487.1,212.5 465.4,216.1" fill="url(#g5_11)"/>
<polygon points="534.0,197.7 556.0,195.8 532.7,202.7 510.7,204.7" fill="url(#g6_10)"/>
<polygon points="579.1,189.6 601.5,189.3 578.4,195.4 556.0,195.8" fill="url(#g7_9)"/>
<polygon points="624.2,183.9 647.0,185.3 624.2,190.6 601.5,189.3" fill="url(#g8_8)"/>
<polygon points="669.4,180.7 692.5,183.7 670.0,188.3 647.0,185.3" fill="url(#g9_7)"/>
<polygon points="714.6,180.0 737.9,184.7 715.8,188.4 692.5,183.7" fill="url(#g10_6)"/>
<polygon points="759.8,181.7 783.4,188.1 761.6,191.1 737.9,184.7" fill="url(#g11_5)"/>
<polygon points="804.9,185.9 828.7,194.1 807.2,196.2 783.4,188.1" fill="url(#g12_4)"/>
<polygon points="849.9,192.6 874.0,202.4 852.8,203.9 828.7,194.1" fill="url(#g13_3)"/>
<polygon points="894.8,201.7 919.1,213.3 898.3,214.0 874.0,202.4" fill="url(#g14_2)"/>
<polygon points="939.6,213.3 964.0,226.6 943.5,226.6 919.1,213.3" fill="url(#g15_1)"/>
<polygon points="984.1,227.2 1008.7,242.3 988.6,241.6 964.0,226.6" fill="url(#g16_0)"/>
<polygon points="242.1,309.3 261.6,298.1 236.7,311.1 217.3,322.4" fill="url(#g0_17)"/>
<polygon points="286.3,285.9 306.3,276.2 281.6,288.3 261.6,298.1" fill="url(#g1_16)"/>
<polygon points="330.7,264.9 351.2,256.7 326.7,267.9 306.3,276.2" fill="url(#g2_15)"/>
<polygon points="375.4,246.2 396.3,239.5 372.0,249.9 351.2,256.7" fill="url(#g3_14)"/>
<polygon points="420.4,230.0 441.6,224.8 417.6,234.3 396.3,239.5" fill="url(#g4_13)"/>
<polygon points="465.4,216.1 487.1,212.5 463.3,221.2 441.6,224.8" fill="url(#g5_12)"/>
<polygon points="510.7,204.7 532.7,202.7 509.1,210.5 487.1,212.5" fill="url(#g6_11)"/>
<polygon points="556.0,195.8 578.4,195.4 555.1,202.4 532.7,202.7" fill="url(#g7_10)"/>
<polygon points="601.5,189.3 624.2,190.6 601.2,196.7 578.4,195.4" fill="url(#g8_9)"/>
<polygon points="647.0,185.3 670.0,188.3 647.2,193.5 624.2,190.6" fill="url(#g9_8)"/>
<polygon points="692.5,183.7 715.8,188.4 693.3,192.9 670.0,188.3" fill="url(#g10_7)"/>
<polygon points="737.9,184.7 761.6,191.1 739.4,194.8 715.8,188.4" fill="url(#g11_6)"/>
<polygon points="783.4,188.1 807.2,196.2 785.4,199.2 761.6,191.1" fill="url(#g12_5)"/>
<polygon points="828.7,194.1 852.8,203.9 831.4,206.1 807.2,196.2" fill="url(#g13_4)"/>
<polygon points="874.0,202.4 898.3,214.0 877.2,215.5 852.8,203.9" fill="url(#g14_3)"/>
<polygon points="919.1,213.3 943.5,226.6 922.8,227.3 898.3,214.0" fill="url(#g15_2)"/>
<polygon points="964.0,226.6 988.6,241.6 968.2,241.7 943.5,226.6" fill="url(#g16_1)"/>
<polygon points="1008.7,242.3 1033.5,259.1 1013.5,258.4 988.6,241.6" fill="url(#g17_0)"/>
<polygon points="217.3,322.4 236.7,311.1 211.6,325.0 192.2,336.3" fill="url(#g0_18)"/>
<polygon points="261.6,298.1 281.6,288.3 256.6,301.3 236.7,311.1" fill="url(#g1_17)"/>
<polygon points="306.3,276.2 326.7,267.9 301.9,280.0 281.6,288.3" fill="url(#g2_16)"/>
<polygon points="351.2,256.7 372.0,249.9 347.4,261.1 326.7,267.9" fill="url(#g3_15)"/>
<polygon points="396.3,239.5 417.6,234.3 393.2,244.6 372.0,249.9" fill="url(#g4_14)"/>
<polygon points="441.6,224.8 463.3,221.2 439.1,230.6 417.6,234.3" fill="url(#g5_13)"/>
<polygon points="487.1,212.5 509.1,210.5 485.3,219.1 463.3,221.2" fill="url(#g6_12)"/>
<polygon points="532.7,202.7 555.1,202.4 531.5,210.1 509.1,210.5" fill="url(#g7_11)"/>
<polygon points="578.4,195.4 601.2,196.7 577.8,203.6 555.1,202.4" fill="url(#g8_10)"/>
<polygon points="624.2,190.6 647.2,193.5 624.2,199.6 601.2,196.7" fill="url(#g9_9)"/>
<polygon points="670.0,188.3 693.3,192.9 670.6,198.2 647.2,193.5" fill="url(#g10_8)"/>
<polygon points="715.8,188.4 739.4,194.8 717.0,199.2 693.3,192.9" fill="url(#g11_7)"/>
<polygon points="761.6,191.1 785.4,199.2 763.3,202.9 739.4,194.8" fill="url(#g12_6)"/>
<polygon points="807.2,196.2 831.4,206.1 809.6,209.0 785.4,199.2" fill="url(#g13_5)"/>
<polygon points="852.8,203.9 877.2,215.5 855.7,217.6 831.4,206.1" fill="url(#g14_4)"/>
<polygon points="898.3,214.0 922.8,227.3 901.7,228.8 877.2,215.5" fill="url(#g15_3)"/>
<polygon points="943.5,226.6 968.2,241.7 947.6,242.4 922.8,227.3" fill="url(#g16_2)"/>
<polygon points="988.6,241.6 1013.5,258.4 993.2,258.5 968.2,241.7" fill="url(#g17_1)"/>
<polygon points="1033.5,259.1 1058.4,277.6 1038.5,277.0 1013.5,258.4" fill="url(#g18_0)"/>
<polygon points="192.2,336.3 211.6,325.0 186.2,339.7 166.9,351.1" fill="url(#g0_19)"/>
<polygon points="236.7,311.1 256.6,301.3 231.3,315.1 211.6,325.0" fill="url(#g1_18)"/>
<polygon points="281.6,288.3 301.9,280.0 276.8,292.9 256.6,301.3" fill="url(#g2_17)"/>
<polygon points="326.7,267.9 347.4,261.1 322.6,273.1 301.9,280.0" fill="url(#g3_16)"/>
<polygon points="372.0,249.9 393.2,244.6 368.5,255.8 347.4,261.1" fill="url(#g4_15)"/>
<polygon points="417.6,234.3 439.1,230.6 414.7,240.9 393.2,244.6" fill="url(#g5_14)"/>
<polygon points="463.3,221.2 485.3,219.1 461.1,228.5 439.1,230.6" fill="url(#g6_13)"/>
<polygon points="509.1,210.5 531.5,210.1 507.6,218.7 485.3,219.1" fill="url(#g7_12)"/>
<polygon points="555.1,202.4 577.8,203.6 554.2,211.3 531.5,210.1" fill="url(#g8_11)"/>
<polygon points="601.2,196.7 624.2,199.6 600.8,206.5 577.8,203.6" fill="url(#g9_10)"/>
<polygon points="647.2,193.5 670.6,198.2 647.5,204.2 624.2,199.6" fill="url(#g10_9)"/>
<polygon points="693.3,192.9 717.0,199.2 694.2,204.5 670.6,198.2" fill="url(#g11_8)"/>
<polygon points="739.4,194.8 763.3,202.9 740.9,207.3 717.0,199.2" fill="url(#g12_7)"/>
<polygon points="785.4,199.2 809.6,209.0 787.5,212.7 763.3,202.9" fill="url(#g13_6)"/>
<polygon points="831.4,206.1 855.7,217.6 834.0,220.6 809.6,209.0" fill="url(#g14_5)"/>
<polygon points="877.2,215.5 901.7,228.8 880.4,231.0 855.7,217.6" fill="url(#g15_4)"/>
<polygon points="922.8,227.3 947.6,242.4 926.5,243.9 901.7,228.8" fill="url(#g16_3)"/>
<polygon points="968.2,241.7 993.2,258.5 972.5,259.3 947.6,242.4" fill="url(#g17_2)"/>
<polygon points="1013.5,258.4 1038.5,277.0 1018.3,277.1 993.2,258.5" fill="url(#g18_1)"/>
<polygon points="1058.4,277.6 1083.6,298.0 1063.8,297.4 1038.5,277.0" fill="url(#g19_0)"/>
<polygon points="211.6,325.0 231.3,315.1 205.8,329.8 186.2,339.7" fill="url(#g1_19)"/>
<polygon points="256.6,301.3 276.8,292.9 251.5,306.7 231.3,315.1" fill="url(#g2_18)"/>
<polygon points="301.9,280.0 322.6,273.1 297.4,286.0 276.8,292.9" fill="url(#g3_17)"/>
<polygon points="347.4,261.1 368.5,255.8 343.6,267.8 322.6,273.1" fill="url(#g4_16)"/>
<polygon points="393.2,244.6 414.7,240.9 390.0,252.0 368.5,255.8" fill="url(#g5_15)"/>
<polygon points="439.1,230.6 461.1,228.5 436.6,238.8 414.7,240.9" fill="url(#g6_14)"/>
<polygon points="485.3,219.1 507.6,218.7 483.4,228.0 461.1,228.5" fill="url(#g7_13)"/>
<polygon points="531.5,210.1 554.2,211.3 530.2,219.8 507.6,218.7" fill="url(#g8_12)"/>
<polygon points="577.8,203.6 600.8,206.5 577.2,214.2 554.2,211.3" fill="url(#g9_11)"/>
<polygon points="624.2,199.6 647.5,204.2 624.2,211.1 600.8,206.5" fill="url(#g10_10)"/>
<polygon points="670.6,198.2 694.2,204.5 671.2,210.5 647.5,204.2" fill="url(#g11_9)"/>
<polygon points="717.0,199.2 740.9,207.3 718.2,212.5 694.2,204.5" fill="url(#g12_8)"/>
<polygon points="763.3,202.9 787.5,212.7 765.1,217.1 740.9,207.3" fill="url(#g13_7)"/>
<polygon points="809.6,209.0 834.0,220.6 811.9,224.2 787.5,212.7" fill="url(#g14_6)"/>
<polygon points="855.7,217.6 880.4,231.0 858.7,233.9 834.0,220.6" fill="url(#g15_5)"/>
<polygon points="901.7,228.8 926.5,243.9 905.2,246.1 880.4,231.0" fill="url(#g16_4)"/>
<polygon points="947.6,242.4 972.5,259.3 951.6,260.8 926.5,243.9" fill="url(#g17_3)"/>
<polygon points="993.2,258.5 1018.3,277.1 997.7,278.0 972.5,259.3" fill="url(#g18_2)"/>
<polygon points="1038.5,277.0 1063.8,297.4 1043.6,297.6 1018.3,277.1" fill="url(#g19_1)"/>
<polygon points="231.3,315.1 251.5,306.7 225.9,321.4 205.8,329.8" fill="url(#g2_19)"/>
<polygon points="276.8,292.9 297.4,286.0 272.0,299.8 251.5,306.7" fill="url(#g3_18)"/>
<polygon points="322.6,273.1 343.6,267.8 318.4,280.7 297.4,286.0" fill="url(#g4_17)"/>
<polygon points="368.5,255.8 390.0,252.0 365.0,264.0 343.6,267.8" fill="url(#g5_16)"/>
<polygon points="414.7,240.9 436.6,238.8 411.9,249.9 390.0,252.0" fill="url(#g6_15)"/>
<polygon points="461.1,228.5 483.4,228.0 458.9,238.3 436.6,238.8" fill="url(#g7_14)"/>
<polygon points="507.6,218.7 530.2,219.8 506.0,229.2 483.4,228.0" fill="url(#g8_13)"/>
<polygon points="554.2,211.3 577.2,214.2 553.2,222.7 530.2,219.8" fill="url(#g9_12)"/>
<polygon points="600.8,206.5 624.2,211.1 600.5,218.7 577.2,214.2" fill="url(#g10_11)"/>
<polygon points="647.5,204.2 671.2,210.5 647.8,217.4 624.2,211.1" fill="url(#g11_10)"/>
<polygon points="694.2,204.5 718.2,212.5 695.1,218.6 671.2,210.5" fill="url(#g12_9)"/>
<polygon points="740.9,207.3 765.1,217.1 742.4,222.4 718.2,212.5" fill="url(#g13_8)"/>
<polygon points="787.5,212.7 811.9,224.2 789.6,228.7 765.1,217.1" fill="url(#g14_7)"/>
<polygon points="834.0,220.6 858.7,233.9 836.7,237.6 811.9,224.2" fill="url(#g15_6)"/>
<polygon points="880.4,231.0 905.2,246.1 883.6,249.1 858.7,233.9" fill="url(#g16_5)"/>
<polygon points="926.5,243.9 951.6,260.8 930.3,263.0 905.2,246.1" fill="url(#g17_4)"/>
<polygon points="972.5,259.3 997.7,278.0 976.9,279.5 951.6,260.8" fill="url(#g18_3)"/>
<polygon points="1018.3,277.1 1043.6,297.6 1023.1,298.5 997.7,278.0" fill="url(#g19_2)"/>
<polygon points="251.5,306.7 272.0,299.8 246.3,314.5 225.9,321.4" fill="url(#g3_19)"/>
<polygon points="297.4,286.0 318.4,280.7 292.9,294.4 272.0,299.8" fill="url(#g4_18)"/>
<polygon points="343.6,267.8 365.0,264.0 339.8,276.9 318.4,280.7" fill="url(#g5_17)"/>
<polygon points="390.0,252.0 411.9,249.9 386.8,261.9 365.0,264.0" fill="url(#g6_16)"/>
<polygon points="436.6,238.8 458.9,238.3 434.1,249.4 411.9,249.9" fill="url(#g7_15)"/>
<polygon points="483.4,228.0 506.0,229.2 481.5,239.4 458.9,238.3" fill="url(#g8_14)"/>
<polygon points="530.2,219.8 553.2,222.7 529.0,232.0 506.0,229.2" fill="url(#g9_13)"/>
<polygon points="577.2,214.2 600.5,218.7 576.5,227.3 553.2,222.7" fill="url(#g10_12)"/>
<polygon points="624.2,211.1 647.8,217.4 624.2,225.1 600.5,218.7" fill="url(#g11_11)"/>
<polygon points="671.2,210.5 695.1,218.6 671.8,225.4 647.8,217.4" fill="url(#g12_10)"/>
<polygon points="718.2,212.5 742.4,222.4 719.4,228.4 695.1,218.6" fill="url(#g13_9)"/>
<polygon points="765.1,217.1 789.6,228.7 766.9,234.0 742.4,222.4" fill="url(#g14_8)"/>
<polygon points="811.9,224.2 836.7,237.6 814.3,242.1 789.6,228.7" fill="url(#g15_7)"/>
<polygon points="858.7,233.9 883.6,249.1 861.6,252.8 836.7,237.6" fill="url(#g16_6)"/>
<polygon points="905.2,246.1 930.3,263.0 908.7,266.0 883.6,249.1" fill="url(#g17_5)"/>
<polygon points="951.6,260.8 976.9,279.5 955.7,281.8 930.3,263.0" fill="url(#g18_4)"/>
<polygon points="997.7,278.0 1023.1,298.5 1002.3,300.1 976.9,279.5" fill="url(#g19_3)"/>
<polygon points="272.0,299.8 292.9,294.4 267.2,309.1 246.3,314.5" fill="url(#g4_19)"/>
<polygon points="318.4,280.7 339.8,276.9 314.2,290.6 292.9,294.4" fill="url(#g5_18)"/>
<polygon points="365.0,264.0 386.8,261.9 361.5,274.7 339.8,276.9" fill="url(#g6_17)"/>
<polygon points="411.9,249.9 434.1,249.4 409.0,261.3 386.8,261.9" fill="url(#g7_16)"/>
<polygon points="458.9,238.3 481.5,239.4 456.6,250.5 434.1,249.4" fill="url(#g8_15)"/>
<polygon points="506.0,229.2 529.0,232.0 504.4,242.3 481.5,239.4" fill="url(#g9_14)"/>
<polygon points="553.2,222.7 576.5,227.3 552.3,236.6 529.0,232.0" fill="url(#g10_13)"/>
<polygon points="600.5,218.7 624.2,225.1 600.2,233.6 576.5,227.3" fill="url(#g11_12)"/>
<polygon points="647.8,217.4 671.8,225.4 648.1,233.1 624.2,225.1" fill="url(#g12_11)"/>
<polygon points="695.1,218.6 719.4,228.4 696.0,235.3 671.8,225.4" fill="url(#g13_10)"/>
<polygon points="742.4,222.4 766.9,234.0 743.9,240.0 719.4,228.4" fill="url(#g14_9)"/>
<polygon points="789.6,228.7 814.3,242.1 791.7,247.4 766.9,234.0" fill="url(#g15_8)"/>
<polygon points="836.7,237.6 861.6,252.8 839.3,257.3 814.3,242.1" fill="url(#g16_7)"/>
<polygon points="883.6,249.1 908.7,266.0 886.8,269.8 861.6,252.8" fill="url(#g17_6)"/>
<polygon points="930.3,263.0 955.7,281.8 934.1,284.9 908.7,266.0" fill="url(#g18_5)"/>
<polygon points="976.9,279.5 1002.3,300.1 981.2,302.5 955.7,281.8" fill="url(#g19_4)"/>
<polygon points="292.9,294.4 314.2,290.6 288.4,305.3 267.2,309.1" fill="url(#g5_19)"/>
<polygon points="339.8,276.9 361.5,274.7 335.9,288.5 314.2,290.6" fill="url(#g6_18)"/>
<polygon points="386.8,261.9 409.0,261.3 383.6,274.2 361.5,274.7" fill="url(#g7_17)"/>
<polygon points="434.1,249.4 456.6,250.5 431.5,262.5 409.0,261.3" fill="url(#g8_16)"/>
<polygon points="481.5,239.4 504.4,242.3 479.5,253.3 456.6,250.5" fill="url(#g9_15)"/>
<polygon points="529.0,232.0 552.3,236.6 527.7,246.8 504.4,242.3" fill="url(#g10_14)"/>
<polygon points="576.5,227.3 600.2,233.6 575.9,242.9 552.3,236.6" fill="url(#g11_13)"/>
<polygon points="624.2,225.1 648.1,233.1 624.1,241.6 600.2,233.6" fill="url(#g12_12)"/>
<polygon points="671.8,225.4 696.0,235.3 672.4,243.0 648.1,233.1" fill="url(#g13_11)"/>
<polygon points="719.4,228.4 743.9,240.0 720.6,246.9 696.0,235.3" fill="url(#g14_10)"/>
<polygon points="766.9,234.0 791.7,247.4 768.7,253.5 743.9,240.0" fill="url(#g15_9)"/>
<polygon points="814.3,242.1 839.3,257.3 816.7,262.7 791.7,247.4" fill="url(#g16_8)"/>
<polygon points="861.6,252.8 886.8,269.8 864.6,274.4 839.3,257.3" fill="url(#g17_7)"/>
<polygon points="908.7,266.0 934.1,284.9 912.3,288.7 886.8,269.8" fill="url(#g18_6)"/>
<polygon points="955.7,281.8 981.2,302.5 959.8,305.6 934.1,284.9" fill="url(#g19_5)"/>
<polygon points="314.2,290.6 335.9,288.5 310.0,303.1 288.4,305.3" fill="url(#g6_19)"/>
<polygon points="361.5,274.7 383.6,274.2 357.9,287.9 335.9,288.5" fill="url(#g7_18)"/>
<polygon points="409.0,261.3 431.5,262.5 406.0,275.3 383.6,274.2" fill="url(#g8_17)"/>
<polygon points="456.6,250.5 479.5,253.3 454.3,265.3 431.5,262.5" fill="url(#g9_16)"/>
<polygon points="504.4,242.3 527.7,246.8 502.8,257.9 479.5,253.3" fill="url(#g10_15)"/>
<polygon points="552.3,236.6 575.9,242.9 551.3,253.2 527.7,246.8" fill="url(#g11_14)"/>
<polygon points="600.2,233.6 624.1,241.6 599.8,251.0 575.9,242.9" fill="url(#g12_13)"/>
<polygon points="648.1,233.1 672.4,243.0 648.4,251.5 624.1,241.6" fill="url(#g13_12)"/>
<polygon points="696.0,235.3 720.6,246.9 697.0,254.7 672.4,243.0" fill="url(#g14_11)"/>
<polygon points="743.9,240.0 768.7,253.5 745.4,260.4 720.6,246.9" fill="url(#g15_10)"/>
<polygon points="791.7,247.4 816.7,262.7 793.8,268.8 768.7,253.5" fill="url(#g16_9)"/>
<polygon points="839.3,257.3 864.6,274.4 842.1,279.8 816.7,262.7" fill="url(#g17_8)"/>
<polygon points="886.8,269.8 912.3,288.7 890.1,293.4 864.6,274.4" fill="url(#g18_7)"/>
<polygon points="934.1,284.9 959.8,305.6 938.0,309.5 912.3,288.7" fill="url(#g19_6)"/>
<polygon points="335.9,288.5 357.9,287.9 331.9,302.6 310.0,303.1" fill="url(#g7_19)"/>
<polygon points="383.6,274.2 406.0,275.3 380.3,289.1 357.9,287.9" fill="url(#g8_18)"/>
<polygon points="431.5,262.5 454.3,265.3 428.9,278.2 406.0,275.3" fill="url(#g9_17)"/>
<polygon points="479.5,253.3 502.8,257.9 477.6,269.9 454.3,265.3" fill="url(#g10_16)"/>
<polygon points="527.7,246.8 551.3,253.2 526.4,264.3 502.8,257.9" fill="url(#g11_15)"/>
<polygon points="575.9,242.9 599.8,251.0 575.2,261.3 551.3,253.2" fill="url(#g12_14)"/>
<polygon points="624.1,241.6 648.4,251.5 624.1,260.9 599.8,251.0" fill="url(#g13_13)"/>
<polygon points="672.4,243.0 697.0,254.7 673.0,263.2 648.4,251.5" fill="url(#g14_12)"/>
<polygon points="720.6,246.9 745.4,260.4 721.8,268.2 697.0,254.7" fill="url(#g15_11)"/>
<polygon points="768.7,253.5 793.8,268.8 770.6,275.8 745.4,260.4" fill="url(#g16_10)"/>
<polygon points="816.7,262.7 842.1,279.8 819.2,286.0 793.8,268.8" fill="url(#g17_9)"/>
<polygon points="864.6,274.4 890.1,293.4 867.6,298.8 842.1,279.8" fill="url(#g18_8)"/>
<polygon points="912.3,288.7 938.0,309.5 915.9,314.2 890.1,293.4" fill="url(#g19_7)"/>
<polygon points="357.9,287.9 380.3,289.1 354.3,303.8 331.9,302.6" fill="url(#g8_19)"/>
<polygon points="406.0,275.3 428.9,278.2 403.1,292.0 380.3,289.1" fill="url(#g9_18)"/>
<polygon points="454.3,265.3 477.6,269.9 452.1,282.8 428.9,278.2" fill="url(#g10_17)"/>
<polygon points="502.8,257.9 526.4,264.3 501.1,276.3 477.6,269.9" fill="url(#g11_16)"/>
<polygon points="551.3,253.2 575.2,261.3 550.3,272.4 526.4,264.3" fill="url(#g12_15)"/>
<polygon points="599.8,251.0 624.1,260.9 599.5,271.2 575.2,261.3" fill="url(#g13_14)"/>
<polygon points="648.4,251.5 673.0,263.2 648.7,272.7 624.1,260.9" fill="url(#g14_13)"/>
<polygon points="697.0,254.7 721.8,268.2 697.9,276.8 673.0,263.2" fill="url(#g15_12)"/>
<polygon points="745.4,260.4 770.6,275.8 747.0,283.6 721.8,268.2" fill="url(#g16_11)"/>
<polygon points="793.8,268.8 819.2,286.0 796.0,293.0 770.6,275.8" fill="url(#g17_10)"/>
<polygon points="842.1,279.8 867.6,298.8 844.8,305.1 819.2,286.0" fill="url(#g18_9)"/>
<polygon points="890.1,293.4 915.9,314.2 893.4,319.8 867.6,298.8" fill="url(#g19_8)"/>
<polygon points="380.3,289.1 403.1,292.0 377.0,306.7 354.3,303.8" fill="url(#g9_19)"/>
<polygon points="428.9,278.2 452.1,282.8 426.2,296.6 403.1,292.0" fill="url(#g10_18)"/>
<polygon points="477.6,269.9 501.1,276.3 475.6,289.2 452.1,282.8" fill="url(#g11_17)"/>
<polygon points="526.4,264.3 550.3,272.4 525.1,284.5 501.1,276.3" fill="url(#g12_16)"/>
<polygon points="575.2,261.3 599.5,271.2 574.6,282.4 550.3,272.4" fill="url(#g13_15)"/>
<polygon points="624.1,260.9 648.7,272.7 624.1,283.0 599.5,271.2" fill="url(#g14_14)"/>
<polygon points="673.0,263.2 697.9,276.8 673.6,286.3 648.7,272.7" fill="url(#g15_13)"/>
<polygon points="721.8,268.2 747.0,283.6 723.1,292.3 697.9,276.8" fill="url(#g16_12)"/>
<polygon points="770.6,275.8 796.0,293.0 772.4,300.9 747.0,283.6" fill="url(#g17_11)"/>
<polygon points="819.2,286.0 844.8,305.1 821.6,312.2 796.0,293.0" fill="url(#g18_10)"/>
<polygon points="867.6,298.8 893.4,319.8 870.7,326.1 844.8,305.1" fill="url(#g19_9)"/>
<polygon points="403.1,292.0 426.2,296.6 400.1,311.4 377.0,306.7" fill="url(#g10_19)"/>
<polygon points="452.1,282.8 475.6,289.2 449.7,303.1 426.2,296.6" fill="url(#g11_18)"/>
<polygon points="501.1,276.3 525.1,284.5 499.5,297.5 475.6,289.2" fill="url(#g12_17)"/>
<polygon points="550.3,272.4 574.6,282.4 549.3,294.5 525.1,284.5" fill="url(#g13_16)"/>
<polygon points="599.5,271.2 624.1,283.0 599.2,294.3 574.6,282.4" fill="url(#g14_15)"/>
<polygon points="648.7,272.7 673.6,286.3 649.0,296.7 624.1,283.0" fill="url(#g15_14)"/>
<polygon points="697.9,276.8 723.1,292.3 698.8,301.9 673.6,286.3" fill="url(#g16_13)"/>
<polygon points="747.0,283.6 772.4,300.9 748.5,309.7 723.1,292.3" fill="url(#g17_12)"/>
<polygon points="796.0,293.0 821.6,312.2 798.1,320.2 772.4,300.9" fill="url(#g18_11)"/>
<polygon points="844.8,305.1 870.7,326.1 847.5,333.3 821.6,312.2" fill="url(#g19_10)"/>
<polygon points="426.2,296.6 449.7,303.1 423.6,317.9 400.1,311.4" fill="url(#g11_19)"/>
<polygon points="475.6,289.2 499.5,297.5 473.6,311.4 449.7,303.1" fill="url(#g12_18)"/>
<polygon points="525.1,284.5 549.3,294.5 523.7,307.5 499.5,297.5" fill="url(#g13_17)"/>
<polygon points="574.6,282.4 599.2,294.3 573.9,306.4 549.3,294.5" fill="url(#g14_16)"/>
<polygon points="624.1,283.0 649.0,296.7 624.1,308.0 599.2,294.3" fill="url(#g15_15)"/>
<polygon points="673.6,286.3 698.8,301.9 674.2,312.3 649.0,296.7" fill="url(#g16_14)"/>
<polygon points="723.1,292.3 748.5,309.7 724.3,319.3 698.8,301.9" fill="url(#g17_13)"/>
<polygon points="772.4,300.9 798.1,320.2 774.3,329.0 748.5,309.7" fill="url(#g18_12)"/>
<polygon points="821.6,312.2 847.5,333.3 824.1,341.4 798.1,320.2" fill="url(#g19_11)"/>
<polygon points="449.7,303.1 473.6,311.4 447.4,326.2 423.6,317.9" fill="url(#g12_19)"/>
<polygon points="499.5,297.5 523.7,307.5 497.8,321.5 473.6,311.4" fill="url(#g13_18)"/>
<polygon points="549.3,294.5 573.9,306.4 548.3,319.5 523.7,307.5" fill="url(#g14_17)"/>
<polygon points="599.2,294.3 624.1,308.0 598.8,320.3 573.9,306.4" fill="url(#g15_16)"/>
<polygon points="649.0,296.7 674.2,312.3 649.3,323.7 624.1,308.0" fill="url(#g16_15)"/>
<polygon points="698.8,301.9 724.3,319.3 699.8,329.9 674.2,312.3" fill="url(#g17_14)"/>
<polygon points="748.5,309.7 774.3,329.0 750.1,338.8 724.3,319.3" fill="url(#g18_13)"/>
<polygon points="798.1,320.2 824.1,341.4 800.3,350.3 774.3,329.0" fill="url(#g19_12)"/>
<polygon points="473.6,311.4 497.8,321.5 471.6,336.4 447.4,326.2" fill="url(#g13_19)"/>
<polygon points="523.7,307.5 548.3,319.5 522.4,333.6 497.8,321.5" fill="url(#g14_18)"/>
<polygon points="573.9,306.4 598.8,320.3 573.2,333.4 548.3,319.5" fill="url(#g15_17)"/>
<polygon points="624.1,308.0 649.3,323.7 624.1,336.0 598.8,320.3" fill="url(#g16_16)"/>
<polygon points="674.2,312.3 699.8,329.9 674.9,341.4 649.3,323.7" fill="url(#g17_15)"/>
<polygon points="724.3,319.3 750.1,338.8 725.6,349.4 699.8,329.9" fill="url(#g18_14)"/>
<polygon points="774.3,329.0 800.3,350.3 776.2,360.2 750.1,338.8" fill="url(#g19_13)"/>
<polygon points="497.8,321.5 522.4,333.6 496.2,348.6 471.6,336.4" fill="url(#g14_19)"/>
<polygon points="548.3,319.5 573.2,333.4 547.3,347.6 522.4,333.6" fill="url(#g15_18)"/>
<polygon points="598.8,320.3 624.1,336.0 598.5,349.3 573.2,333.4" fill="url(#g16_17)"/>
<polygon points="649.3,323.7 674.9,341.4 649.6,353.8 624.1,336.0" fill="url(#g17_16)"/>
<polygon points="699.8,329.9 725.6,349.4 700.7,361.0 674.9,341.4" fill="url(#g18_15)"/>
<polygon points="750.1,338.8 776.2,360.2 751.7,370.9 725.6,349.4" fill="url(#g19_14)"/>
<polygon points="522.4,333.6 547.3,347.6 521.1,362.6 496.2,348.6" fill="url(#g15_19)"/>
<polygon points="573.2,333.4 598.5,349.3 572.6,363.5 547.3,347.6" fill="url(#g16_18)"/>
<polygon points="624.1,336.0 649.6,353.8 624.1,367.1 598.5,349.3" fill="url(#g17_17)"/>
<polygon points="674.9,341.4 700.7,361.0 675.5,373.5 649.6,353.8" fill="url(#g18_16)"/>
<polygon points="725.6,349.4 751.7,370.9 726.8,382.6 700.7,361.0" fill="url(#g19_15)"/>
<polygon points="547.3,347.6 572.6,363.5 546.3,378.7 521.1,362.6" fill="url(#g16_19)"/>
<polygon points="598.5,349.3 624.1,367.1 598.1,381.4 572.6,363.5" fill="url(#g17_18)"/>
<polygon points="649.6,353.8 675.5,373.5 649.9,387.0 624.1,367.1" fill="url(#g18_17)"/>
<polygon points="700.7,361.0 726.8,382.6 701.7,395.3 675.5,373.5" fill="url(#g19_16)"/>
<polygon points="572.6,363.5 598.1,381.4 571.9,396.7 546.3,378.7" fill="url(#g17_19)"/>
<polygon points="624.1,367.1 649.9,387.0 624.0,401.4 598.1,381.4" fill="url(#g18_18)"/>
<polygon points="675.5,373.5 701.7,395.3 676.1,408.9 649.9,387.0" fill="url(#g19_17)"/>
<polygon points="598.1,381.4 624.0,401.4 597.8,416.8 571.9,396.7" fill="url(#g18_19)"/>
<polygon points="649.9,387.0 676.1,408.9 650.2,423.4 624.0,401.4" fill="url(#g19_18)"/>
<polygon points="624.0,401.4 650.2,423.4 624.0,439.0 597.8,416.8" fill="url(#g19_19)"/>
</g>
<path d="M624.4,204.8 L644.8,195.3 L624.4,195.7 L603.9,205.3ZM603.9,205.3 L624.4,195.7 L603.6,196.7 L583.2,206.5ZM583.2,206.5 L603.6,196.7 L582.7,198.5 L562.3,208.4ZM562.3,208.4 L582.7,198.5 L561.4,200.8 L541.1,210.9ZM541.1,210.9 L561.4,200.8 L539.9,203.9 L519.6,214.0ZM519.6,214.0 L539.9,203.9 L518.2,207.6 L497.9,217.9ZM497.9,217.9 L518.2,207.6 L496.2,212.1 L475.9,222.5ZM475.9,222.5 L496.2,212.1 L473.9,217.3 L453.7,227.8ZM453.7,227.8 L473.9,217.3 L451.3,223.2 L431.2,233.8ZM431.2,233.8 L451.3,223.2 L428.5,229.8 L408.5,240.5ZM408.5,240.5 L428.5,229.8 L405.5,237.2 L385.5,248.0ZM385.5,248.0 L405.5,237.2 L382.2,245.4 L362.2,256.2ZM362.2,256.2 L382.2,245.4 L358.6,254.3 L338.7,265.3ZM338.7,265.3 L358.6,254.3 L334.7,264.1 L314.9,275.1ZM314.9,275.1 L334.7,264.1 L310.6,274.6 L290.9,285.7ZM290.9,285.7 L310.6,274.6 L286.3,285.9 L266.6,297.1ZM266.6,297.1 L286.3,285.9 L261.6,298.1 L242.1,309.3ZM242.1,309.3 L261.6,298.1 L236.7,311.1 L217.3,322.4ZM217.3,322.4 L236.7,311.1 L211.6,325.0 L192.2,336.3ZM192.2,336.3 L211.6,325.0 L186.2,339.7 L166.9,351.1ZM644.8,195.3 L665.6,187.1 L645.1,187.4 L624.4,195.7ZM624.4,195.7 L645.1,187.4 L624.3,188.3 L603.6,196.7ZM603.6,196.7 L624.3,188.3 L603.3,189.9 L582.7,198.5ZM582.7,198.5 L603.3,189.9 L582.1,192.1 L561.4,200.8ZM561.4,200.8 L582.1,192.1 L560.6,195.1 L539.9,203.9ZM539.9,203.9 L560.6,195.1 L538.8,198.7 L518.2,207.6ZM518.2,207.6 L538.8,198.7 L516.7,203.1 L496.2,212.1ZM496.2,212.1 L516.7,203.1 L494.4,208.2 L473.9,217.3ZM473.9,217.3 L494.4,208.2 L471.8,214.0 L451.3,223.2ZM451.3,223.2 L471.8,214.0 L449.0,220.5 L428.5,229.8ZM428.5,229.8 L449.0,220.5 L425.9,227.8 L405.5,237.2ZM405.5,237.2 L425.9,227.8 L402.5,235.9 L382.2,245.4ZM382.2,245.4 L402.5,235.9 L378.8,244.8 L358.6,254.3ZM358.6,254.3 L378.8,244.8 L354.9,254.4 L334.7,264.1ZM334.7,264.1 L354.9,254.4 L330.7,264.9 L310.6,274.6ZM310.6,274.6 L330.7,264.9 L306.3,276.2 L286.3,285.9ZM665.6,187.1 L686.6,180.3 L666.1,180.4 L645.1,187.4ZM645.1,187.4 L666.1,180.4 L645.3,181.2 L624.3,188.3ZM624.3,188.3 L645.3,181.2 L624.3,182.7 L603.3,189.9ZM603.3,189.9 L624.3,182.7 L603.0,184.8 L582.1,192.1ZM582.1,192.1 L603.0,184.8 L581.5,187.7 L560.6,195.1ZM560.6,195.1 L581.5,187.7 L559.7,191.2 L538.8,198.7ZM538.8,198.7 L559.7,191.2 L537.6,195.5 L516.7,203.1ZM516.7,203.1 L537.6,195.5 L515.2,200.4 L494.4,208.2ZM494.4,208.2 L515.2,200.4 L492.6,206.1 L471.8,214.0ZM471.8,214.0 L492.6,206.1 L469.7,212.6 L449.0,220.5ZM449.0,220.5 L469.7,212.6 L446.6,219.8 L425.9,227.8ZM425.9,227.8 L446.6,219.8 L423.1,227.8 L402.5,235.9ZM402.5,235.9 L423.1,227.8 L399.4,236.6 L378.8,244.8ZM686.6,180.3 L707.9,174.8 L687.4,174.8 L666.1,180.4ZM666.1,180.4 L687.4,174.8 L666.6,175.5 L645.3,181.2ZM645.3,181.2 L666.6,175.5 L645.6,176.9 L624.3,182.7ZM624.3,182.7 L645.6,176.9 L624.3,178.9 L603.0,184.8ZM603.0,184.8 L624.3,178.9 L602.7,181.7 L581.5,187.7ZM581.5,187.7 L602.7,181.7 L580.9,185.1 L559.7,191.2ZM559.7,191.2 L580.9,185.1 L558.8,189.2 L537.6,195.5ZM537.6,195.5 L558.8,189.2 L536.4,194.1 L515.2,200.4ZM515.2,200.4 L536.4,194.1 L513.7,199.8 L492.6,206.1ZM492.6,206.1 L513.7,199.8 L490.8,206.1 L469.7,212.6ZM707.9,174.8 L729.5,170.7 L709.0,170.7 L687.4,174.8ZM687.4,174.8 L709.0,170.7 L688.2,171.3 L666.6,175.5ZM666.6,175.5 L688.2,171.3 L667.2,172.5 L645.6,176.9ZM645.6,176.9 L667.2,172.5 L645.9,174.4 L624.3,178.9ZM624.3,178.9 L645.9,174.4 L624.3,177.1 L602.7,181.7ZM602.7,181.7 L624.3,177.1 L602.4,180.4 L580.9,185.1ZM580.9,185.1 L602.4,180.4 L580.3,184.5 L558.8,189.2ZM558.8,189.2 L580.3,184.5 L557.9,189.3 L536.4,194.1ZM729.5,170.7 L751.3,168.1 L730.8,167.9 L709.0,170.7ZM709.0,170.7 L730.8,167.9 L710.1,168.4 L688.2,171.3ZM688.2,171.3 L710.1,168.4 L689.0,169.6 L667.2,172.5ZM667.2,172.5 L689.0,169.6 L667.7,171.4 L645.9,174.4ZM645.9,174.4 L667.7,171.4 L646.1,174.0 L624.3,177.1ZM751.3,168.1 L773.5,167.0 L753.0,166.7 L730.8,167.9ZM730.8,167.9 L753.0,166.7 L732.2,167.1 L710.1,168.4ZM710.1,168.4 L732.2,167.1 L711.2,168.2 L689.0,169.6ZM773.5,167.0 L795.9,167.3 L775.4,166.9 L753.0,166.7Z" fill="none" stroke="#000" stroke-width="1.2" stroke-opacity="0.8"/>
<circle cx="624.5" cy="193.2" r="9.8" fill="#c80000" stroke="#5a0000" stroke-width="1.5"/>
<g font-family="'Liberation Sans', sans-serif" fill="#000" stroke="#fff" stroke-width="0.9" stroke-linejoin="round">
<text transform="translate(104.77,106.27) scale(0.9299,1)" font-size="33.00">95</text>
<text transform="translate(108.59,204.07) scale(0.9745,1)" font-size="33.00">90</text>
<text transform="translate(113.13,300.67) scale(0.9591,1)" font-size="33.00">85</text>
<text transform="translate(117.53,400.37) scale(0.9650,1)" font-size="33.00">80</text>
<text transform="translate(121.89,497.97) scale(0.9745,1)" font-size="33.00">75</text>
<text transform="translate(126.28,598.17) scale(0.9834,1)" font-size="33.00">70</text>
<text transform="translate(116.19,794.67) scale(0.9148,1)" font-size="33.00">250</text>
<text transform="translate(203.35,838.67) scale(0.9417,1)" font-size="33.00">230</text>
<text transform="translate(292.16,884.37) scale(0.9321,1)" font-size="33.00">210</text>
<text transform="translate(378.51,931.37) scale(0.9423,1)" font-size="33.00">190</text>
<text transform="translate(468.21,975.27) scale(0.9071,1)" font-size="33.00">170</text>
<text transform="translate(557.68,1021.17) scale(0.8798,1)" font-size="33.00">150</text>
<text transform="translate(642.62,1021.97) scale(0.8942,1)" font-size="33.00">60</text>
<text transform="translate(716.47,981.77) scale(0.8645,1)" font-size="33.00">70</text>
<text transform="translate(787.29,945.07) scale(0.9150,1)" font-size="33.00">80</text>
<text transform="translate(861.15,907.17) scale(0.8764,1)" font-size="33.00">90</text>
<text transform="translate(933.99,870.07) scale(0.9110,1)" font-size="33.00">100</text>
<text transform="translate(1006.46,832.27) scale(0.9606,1)" font-size="33.00">110</text>
<text transform="translate(1082.28,795.57) scale(0.9150,1)" font-size="33.00">120</text>
<text transform="translate(130.80,970.9) scale(0.9496,1)" font-size="32.85">D: speed (rpm)</text>
<rect x="921.5" y="937.1" width="182.1" height="45.6" fill="#f2f6fc"/>
<text transform="translate(921.65,970.3) scale(0.9052,1)" font-size="33.87" stroke="#f2f6fc">B: Time (min)</text>
<text transform="translate(22.3,670.05) rotate(-90) scale(0.9285,1)" font-size="33.43">COD REMOVAL EFICANCY (%)</text>
</g>
</svg></body></html>
